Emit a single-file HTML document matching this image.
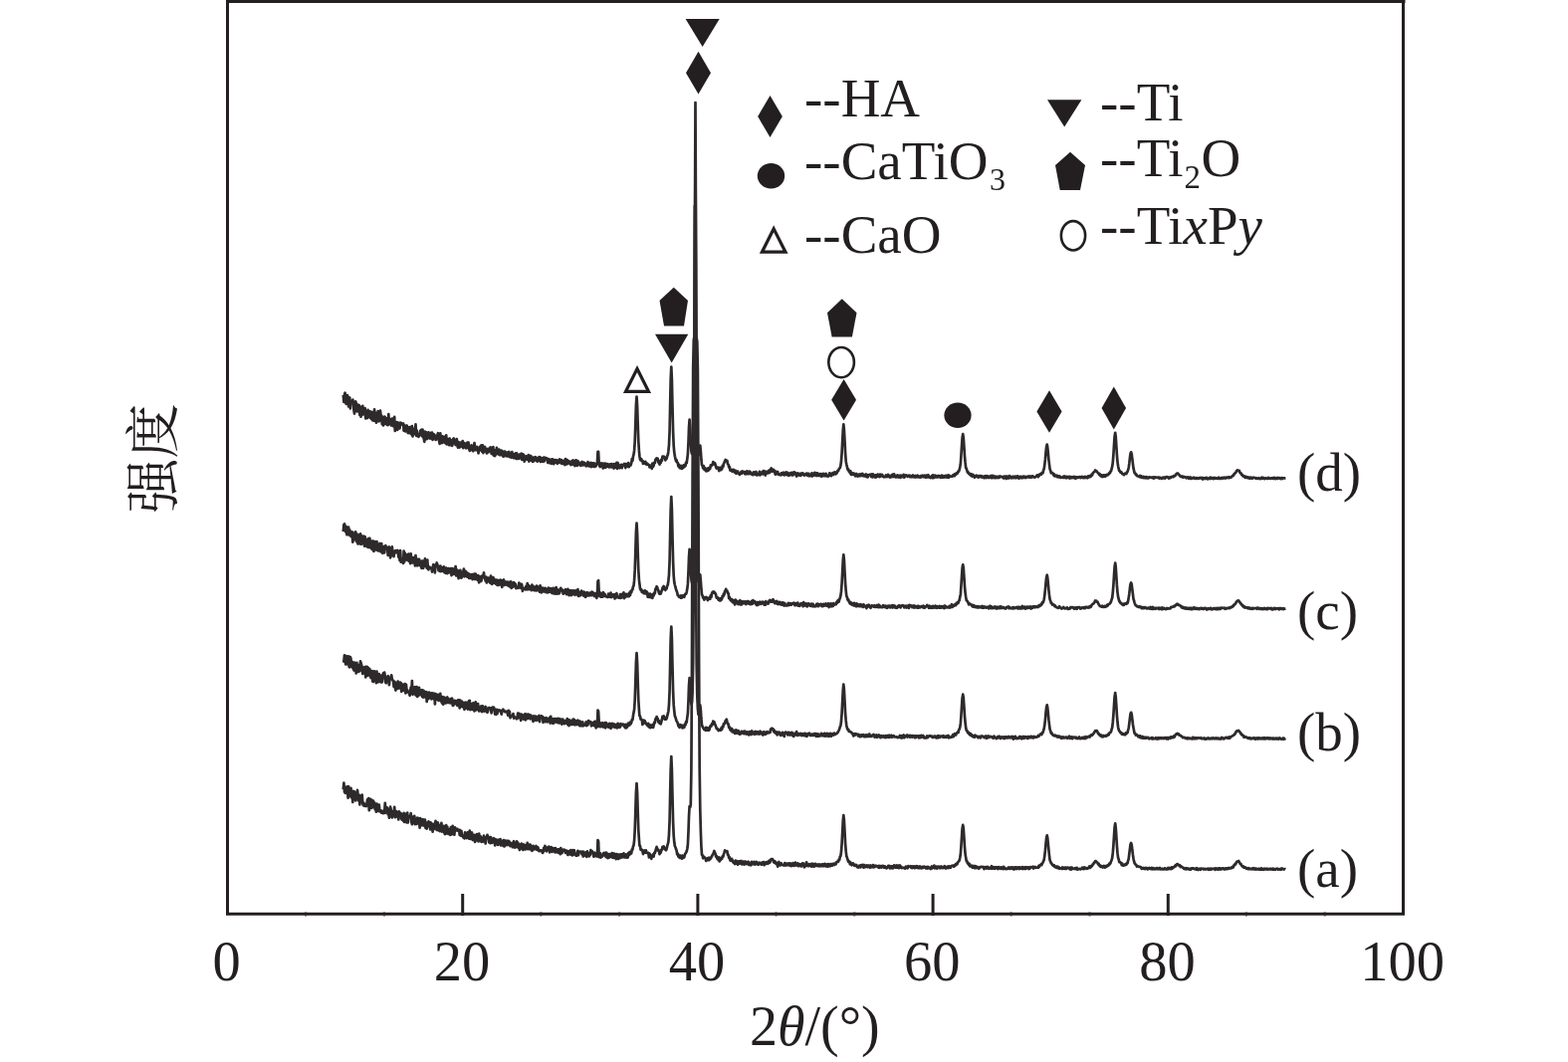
<!DOCTYPE html>
<html><head><meta charset="utf-8"><title>XRD</title><style>
html,body{margin:0;padding:0;background:#fff;overflow:hidden;}
svg{display:block;}
text{font-family:"Liberation Serif","Noto Serif CJK SC",serif;fill:#231f20;}
</style></head><body>
<svg width="1575" height="1067" viewBox="0 0 1575 1067">
<polyline points="344.8,793.0 345.4,786.5 346.0,795.4 346.6,796.6 347.2,796.9 347.8,791.2 348.4,790.3 349.0,792.5 349.6,801.6 350.1,790.0 350.7,800.1 351.3,793.0 351.9,799.8 352.5,791.9 353.1,801.3 353.7,795.8 354.3,806.0 354.9,794.8 355.5,802.0 356.0,795.4 356.6,796.6 357.2,804.3 357.8,802.6 358.4,803.1 359.0,793.9 359.6,798.8 360.2,804.4 360.8,798.8 361.4,808.4 362.0,799.6 362.5,804.9 363.1,805.4 363.7,798.5 364.3,807.3 364.9,809.1 365.5,806.8 366.1,809.8 366.7,808.6 367.3,808.4 367.9,810.1 368.4,808.6 369.0,803.3 369.6,808.7 370.2,802.0 370.8,814.2 371.4,803.1 372.0,802.9 372.6,803.0 373.2,811.9 373.8,804.2 374.4,811.0 374.9,804.6 375.5,806.7 376.1,806.3 376.7,813.1 377.3,811.9 377.9,815.7 378.5,807.5 379.1,813.8 379.7,808.6 380.3,815.0 380.8,808.7 381.4,815.3 382.0,815.5 382.6,814.3 383.2,816.6 383.8,815.4 384.4,814.9 385.0,817.1 385.6,816.9 386.2,816.4 386.8,806.9 387.3,816.6 387.9,811.1 388.5,811.2 389.1,812.4 389.7,818.1 390.3,812.8 390.9,821.7 391.5,817.8 392.1,810.7 392.7,813.5 393.2,819.3 393.8,821.4 394.4,818.7 395.0,814.9 395.6,819.4 396.2,810.8 396.8,821.2 397.4,820.4 398.0,815.2 398.6,815.9 399.2,820.6 399.7,816.0 400.3,823.3 400.9,815.3 401.5,816.9 402.1,817.4 402.7,817.1 403.3,822.9 403.9,823.6 404.5,818.5 405.1,824.7 405.6,816.8 406.2,825.9 406.8,817.7 407.4,824.0 408.0,818.2 408.6,826.5 409.2,816.7 409.8,826.5 410.4,819.8 411.0,820.2 411.6,820.0 412.1,821.1 412.7,817.1 413.3,826.1 413.9,828.1 414.5,826.8 415.1,821.5 415.7,820.1 416.3,819.9 416.9,828.2 417.5,823.1 418.1,827.8 418.6,827.9 419.2,821.7 419.8,822.3 420.4,822.2 421.0,823.3 421.6,831.7 422.2,822.2 422.8,829.0 423.4,823.4 424.0,829.1 424.5,823.3 425.1,829.4 425.7,823.7 426.3,829.4 426.9,823.7 427.5,831.9 428.1,826.3 428.7,832.6 429.3,826.5 429.9,830.3 430.5,825.4 431.0,826.8 431.6,826.1 432.2,833.4 432.8,826.7 433.4,831.9 434.0,827.7 434.6,835.7 435.2,828.4 435.8,833.1 436.4,827.5 436.9,832.4 437.5,824.8 438.1,828.2 438.7,833.9 439.3,828.2 439.9,826.5 440.5,834.5 441.1,833.8 441.7,835.0 442.3,828.9 442.9,835.0 443.4,826.8 444.0,835.7 444.6,830.0 445.2,835.0 445.8,829.8 446.4,836.9 447.0,838.1 447.6,830.8 448.2,829.1 448.8,837.5 449.3,830.6 449.9,837.2 450.5,837.9 451.1,837.6 451.7,832.9 452.3,838.8 452.9,831.0 453.5,838.3 454.1,837.9 454.7,829.9 455.3,837.2 455.8,838.3 456.4,838.7 457.0,831.4 457.6,833.9 458.2,832.8 458.8,834.4 459.4,832.8 460.0,834.5 460.6,834.2 461.2,833.9 461.7,838.9 462.3,834.1 462.9,839.6 463.5,835.0 464.1,839.7 464.7,839.5 465.3,841.4 465.9,840.8 466.5,842.4 467.1,836.4 467.7,841.6 468.2,840.9 468.8,842.1 469.4,836.8 470.0,836.2 470.6,836.4 471.2,842.6 471.8,834.7 472.4,842.8 473.0,837.3 473.6,838.2 474.1,836.5 474.7,843.9 475.3,843.7 475.9,842.5 476.5,838.8 477.1,846.0 477.7,843.5 478.3,844.4 478.9,838.2 479.5,843.8 480.1,840.1 480.6,845.5 481.2,837.5 481.8,844.6 482.4,840.3 483.0,840.5 483.6,845.9 484.2,844.5 484.8,845.5 485.4,845.2 486.0,839.7 486.5,845.4 487.1,841.2 487.7,847.5 488.3,841.5 488.9,842.0 489.5,838.8 490.1,841.9 490.7,841.3 491.3,846.4 491.9,841.0 492.5,847.2 493.0,841.2 493.6,842.3 494.2,846.8 494.8,846.2 495.4,843.5 496.0,842.2 496.6,842.9 497.2,849.5 497.8,843.4 498.4,843.5 498.9,843.9 499.5,843.9 500.1,848.8 500.7,843.8 501.3,847.5 501.9,848.3 502.5,843.0 503.1,849.3 503.7,844.7 504.3,849.2 504.9,848.0 505.4,849.6 506.0,844.2 506.6,850.5 507.2,845.5 507.8,844.5 508.4,844.7 509.0,849.1 509.6,844.8 510.2,848.9 510.8,844.9 511.3,845.5 511.9,845.8 512.5,850.1 513.1,850.0 513.7,849.9 514.3,847.0 514.9,851.2 515.5,846.8 516.1,845.2 516.7,850.2 517.3,851.6 517.8,847.8 518.4,850.7 519.0,845.3 519.6,851.0 520.2,846.6 520.8,851.8 521.4,848.2 522.0,854.0 522.6,851.4 523.2,852.5 523.8,847.6 524.3,851.8 524.9,848.3 525.5,854.0 526.1,848.5 526.7,848.7 527.3,849.2 527.9,853.3 528.5,849.8 529.1,852.5 529.7,846.8 530.2,853.1 530.8,849.5 531.4,853.1 532.0,848.6 532.6,848.5 533.2,850.2 533.8,854.2 534.4,854.8 535.0,853.7 535.6,849.8 536.2,853.5 536.7,853.3 537.3,851.1 537.9,851.3 538.5,849.9 539.1,853.7 539.7,853.9 540.3,851.3 540.9,854.3 541.5,855.1 542.1,854.6 542.6,854.1 543.2,854.9 543.8,854.4 544.4,855.1 545.0,856.9 545.6,856.1 546.2,851.9 546.8,854.7 547.4,849.8 548.0,852.2 548.6,852.6 549.1,855.3 549.7,852.5 550.3,851.2 550.9,853.0 551.5,850.5 552.1,856.3 552.7,852.4 553.3,852.1 553.9,851.1 554.5,855.9 555.0,855.6 555.6,852.5 556.2,852.1 556.8,852.4 557.4,856.3 558.0,852.2 558.6,856.1 559.2,853.9 559.8,856.5 560.4,853.3 561.0,856.7 561.5,853.4 562.1,857.0 562.7,858.2 563.3,852.1 563.9,856.7 564.5,857.1 565.1,854.1 565.7,853.6 566.3,854.6 566.9,853.6 567.4,854.1 568.0,857.0 568.6,854.8 569.2,854.6 569.8,854.9 570.4,859.0 571.0,857.9 571.6,855.0 572.2,855.2 572.8,858.5 573.4,854.1 573.9,858.8 574.5,854.7 575.1,859.4 575.7,854.1 576.3,858.6 576.9,854.4 577.5,858.5 578.1,858.4 578.7,859.7 579.3,858.0 579.8,859.5 580.4,854.8 581.0,859.2 581.6,855.5 582.2,856.2 582.8,855.6 583.4,855.5 584.0,856.1 584.6,858.4 585.2,855.6 585.8,860.5 586.3,855.9 586.9,859.8 587.5,856.8 588.1,859.5 588.7,856.3 589.3,860.8 589.9,855.4 590.5,859.5 591.1,857.0 591.7,860.4 592.2,859.3 592.8,859.2 593.4,854.2 594.0,857.2 594.6,855.0 595.2,856.7 595.8,857.3 596.4,860.7 597.0,856.6 597.6,859.8 598.2,857.3 598.7,859.7 599.3,860.5 599.9,860.4 600.5,844.1 601.1,845.4 601.7,861.2 602.3,860.6 602.9,857.3 603.5,861.6 604.1,859.9 604.6,860.7 605.2,860.4 605.8,858.0 606.4,857.0 607.0,856.9 607.6,857.2 608.2,860.4 608.8,856.5 609.4,861.3 610.0,857.5 610.6,862.1 611.1,858.3 611.7,861.7 612.3,858.0 612.9,860.6 613.5,858.7 614.1,861.0 614.7,857.2 615.3,861.6 615.9,857.5 616.5,861.9 617.0,857.5 617.6,861.1 618.2,858.3 618.8,863.2 619.4,858.2 620.0,861.0 620.6,858.6 621.2,863.0 621.8,859.0 622.4,858.4 623.0,859.1 623.5,861.9 624.1,858.4 624.7,861.2 625.3,858.6 625.9,861.2 626.5,857.4 627.1,861.5 627.7,861.4 628.3,861.0 628.9,858.3 629.4,861.6 630.0,858.5 630.6,861.6 631.2,857.1 631.8,859.3 632.4,856.0 633.0,858.3 633.6,855.5 634.2,857.4 634.8,853.4 635.4,853.6 635.9,850.5 636.5,849.4 637.1,844.5 637.7,834.0 638.3,815.9 638.9,796.3 639.5,787.0 640.1,796.4 640.7,816.0 641.3,834.3 641.9,843.2 642.4,849.7 643.0,849.9 643.6,853.9 644.2,853.5 644.8,853.8 645.4,854.5 646.0,858.1 646.6,854.9 647.2,855.2 647.8,854.5 648.3,856.8 648.9,854.4 649.5,856.2 650.1,857.0 650.7,857.2 651.3,857.0 651.9,861.3 652.5,857.5 653.1,861.2 653.7,859.6 654.3,862.8 654.8,859.3 655.4,859.3 656.0,858.3 656.6,860.6 657.2,856.9 657.8,857.2 658.4,854.8 659.0,852.8 659.6,850.9 660.2,852.4 660.7,854.5 661.3,853.8 661.9,854.7 662.5,858.2 663.1,855.5 663.7,856.7 664.3,853.9 664.9,853.7 665.5,850.8 666.1,851.2 666.7,850.3 667.2,852.7 667.8,852.0 668.4,853.7 669.0,854.2 669.6,852.9 670.2,850.2 670.8,848.0 671.4,845.6 672.0,838.5 672.6,824.5 673.1,800.9 673.7,773.3 674.3,760.0 674.9,773.6 675.5,801.3 676.1,825.6 676.7,839.6 677.3,846.3 677.9,850.2 678.5,851.3 679.1,853.3 679.6,854.5 680.2,858.5 680.8,857.6 681.4,860.6 682.0,861.0 682.6,861.7 683.2,859.5 683.8,861.9 684.4,861.8 685.0,862.7 685.5,859.5 686.1,862.0 686.7,861.8 687.3,861.3 687.9,858.8 688.5,857.3 689.1,856.9 689.7,855.3 690.3,853.0 690.9,848.5 691.5,835.5 692.0,820.3 692.6,810.0 693.2,811.1 693.8,808.5 694.4,774.1 695.0,663.6 695.6,485.6 696.2,369.8 696.8,341.2 697.4,338.6 697.9,339.5 698.5,339.6 699.1,340.0 699.7,339.7 700.3,343.3 700.9,372.2 701.5,487.4 702.1,664.4 702.7,772.4 703.3,813.7 703.9,836.0 704.4,850.0 705.0,858.8 705.6,859.2 706.2,862.3 706.8,860.6 707.4,861.3 708.0,861.5 708.6,862.5 709.2,865.0 709.8,864.5 710.3,862.7 710.9,863.0 711.5,861.8 712.1,864.3 712.7,861.8 713.3,863.2 713.9,862.3 714.5,861.3 715.1,860.1 715.7,858.9 716.3,857.9 716.8,857.0 717.4,855.0 718.0,856.7 718.6,857.9 719.2,860.8 719.8,860.0 720.4,862.8 721.0,861.9 721.6,864.2 722.2,861.4 722.7,865.4 723.3,862.5 723.9,864.0 724.5,861.8 725.1,862.9 725.7,860.3 726.3,860.9 726.9,858.2 727.5,856.6 728.1,854.4 728.7,855.5 729.2,855.4 729.8,855.4 730.4,855.1 731.0,858.8 731.6,858.8 732.2,861.9 732.8,861.2 733.4,864.3 734.0,864.9 734.6,863.7 735.1,862.9 735.7,864.5 736.3,866.1 736.9,866.8 737.5,867.0 738.1,868.0 738.7,864.6 739.3,867.6 739.9,865.1 740.5,867.9 741.1,868.7 741.6,865.6 742.2,865.4 742.8,867.6 743.4,865.2 744.0,865.4 744.6,865.0 745.2,868.5 745.8,866.1 746.4,865.7 747.0,865.7 747.5,868.7 748.1,865.5 748.7,865.5 749.3,866.1 749.9,868.2 750.5,866.4 751.1,867.8 751.7,865.7 752.3,868.9 752.9,868.5 753.5,868.9 754.0,869.3 754.6,866.1 755.2,865.8 755.8,868.3 756.4,866.6 757.0,868.1 757.6,865.9 758.2,868.7 758.8,866.7 759.4,868.2 760.0,866.0 760.5,868.3 761.1,868.2 761.7,868.8 762.3,866.9 762.9,866.7 763.5,866.8 764.1,868.2 764.7,868.6 765.3,868.4 765.9,866.4 766.4,868.5 767.0,866.0 767.6,869.2 768.2,866.5 768.8,868.2 769.4,866.6 770.0,866.2 770.6,866.1 771.2,867.8 771.8,867.1 772.4,864.8 772.9,867.0 773.5,866.2 774.1,863.7 774.7,863.1 775.3,863.1 775.9,863.0 776.5,864.0 777.1,866.2 777.7,866.5 778.3,865.3 778.8,866.0 779.4,867.7 780.0,866.7 780.6,868.4 781.2,870.7 781.8,868.4 782.4,866.0 783.0,868.7 783.6,869.4 784.2,868.8 784.8,867.3 785.3,868.9 785.9,868.9 786.5,869.2 787.1,869.2 787.7,869.5 788.3,867.0 788.9,868.9 789.5,869.6 790.1,867.7 790.7,867.8 791.2,867.8 791.8,869.3 792.4,867.4 793.0,867.8 793.6,869.5 794.2,867.5 794.8,870.2 795.4,869.3 796.0,869.4 796.6,867.1 797.2,869.9 797.7,867.8 798.3,869.5 798.9,866.6 799.5,869.5 800.1,867.8 800.7,869.4 801.3,867.3 801.9,870.2 802.5,869.6 803.1,869.6 803.6,868.2 804.2,870.2 804.8,870.4 805.4,869.6 806.0,867.4 806.6,867.8 807.2,867.7 807.8,871.3 808.4,870.1 809.0,869.9 809.6,870.1 810.1,866.3 810.7,868.1 811.3,869.7 811.9,870.2 812.5,870.0 813.1,868.2 813.7,868.4 814.3,868.2 814.9,870.6 815.5,867.9 816.0,870.0 816.6,867.8 817.2,870.7 817.8,870.5 818.4,870.2 819.0,867.9 819.6,869.9 820.2,868.6 820.8,869.8 821.4,868.6 822.0,870.1 822.5,868.5 823.1,870.3 823.7,868.6 824.3,870.0 824.9,868.7 825.5,870.1 826.1,868.3 826.7,870.0 827.3,868.6 827.9,870.0 828.4,867.9 829.0,868.2 829.6,870.4 830.2,870.2 830.8,868.5 831.4,870.7 832.0,868.1 832.6,868.4 833.2,870.1 833.8,870.3 834.4,868.1 834.9,869.6 835.5,868.2 836.1,869.5 836.7,868.0 837.3,867.6 837.9,868.8 838.5,868.9 839.1,867.3 839.7,868.2 840.3,866.0 840.8,866.1 841.4,865.4 842.0,865.8 842.6,863.6 843.2,863.9 843.8,860.5 844.4,860.0 845.0,855.6 845.6,847.5 846.2,836.0 846.8,824.1 847.3,819.1 847.9,824.2 848.5,835.8 849.1,847.6 849.7,855.2 850.3,860.1 850.9,861.5 851.5,863.8 852.1,865.6 852.7,866.0 853.2,865.5 853.8,868.3 854.4,866.6 855.0,868.4 855.6,869.2 856.2,867.5 856.8,867.4 857.4,867.9 858.0,869.6 858.6,869.9 859.2,869.9 859.7,868.9 860.3,869.0 860.9,870.6 861.5,871.4 862.1,870.7 862.7,871.5 863.3,869.5 863.9,869.5 864.5,871.4 865.1,869.2 865.6,869.2 866.2,869.7 866.8,868.8 867.4,871.7 868.0,869.1 868.6,871.3 869.2,871.0 869.8,871.0 870.4,869.4 871.0,869.5 871.6,871.2 872.1,869.5 872.7,869.6 873.3,869.9 873.9,871.7 874.5,869.5 875.1,871.3 875.7,871.0 876.3,871.2 876.9,869.1 877.5,871.4 878.1,869.8 878.6,871.1 879.2,869.9 879.8,869.7 880.4,870.2 881.0,870.2 881.6,871.1 882.2,871.5 882.8,870.0 883.4,871.8 884.0,870.0 884.5,870.2 885.1,871.2 885.7,871.5 886.3,869.8 886.9,869.8 887.5,870.2 888.1,871.7 888.7,870.3 889.3,871.9 889.9,871.3 890.5,872.4 891.0,872.0 891.6,871.4 892.2,869.8 892.8,871.4 893.4,870.0 894.0,872.5 894.6,870.3 895.2,872.2 895.8,870.3 896.4,870.3 896.9,872.4 897.5,872.0 898.1,869.4 898.7,870.6 899.3,870.4 899.9,871.7 900.5,869.5 901.1,871.7 901.7,869.8 902.3,869.7 902.9,872.1 903.4,871.8 904.0,869.5 904.6,871.7 905.2,870.6 905.8,872.1 906.4,871.8 907.0,871.9 907.6,871.9 908.2,871.8 908.8,872.5 909.3,872.6 909.9,870.6 910.5,871.9 911.1,871.8 911.7,872.4 912.3,870.1 912.9,870.5 913.5,870.5 914.1,870.8 914.7,870.3 915.3,871.9 915.8,870.6 916.4,872.0 917.0,870.3 917.6,870.7 918.2,870.4 918.8,872.2 919.4,870.6 920.0,871.7 920.6,870.2 921.2,871.8 921.7,870.5 922.3,872.1 922.9,870.9 923.5,872.1 924.1,870.5 924.7,872.1 925.3,872.0 925.9,872.3 926.5,870.8 927.1,871.9 927.7,870.9 928.2,870.6 928.8,870.8 929.4,871.9 930.0,872.5 930.6,872.5 931.2,870.9 931.8,872.6 932.4,871.0 933.0,872.0 933.6,872.2 934.1,871.9 934.7,873.0 935.3,871.9 935.9,870.5 936.5,872.4 937.1,870.8 937.7,870.9 938.3,869.6 938.9,872.3 939.5,872.2 940.1,870.7 940.6,870.6 941.2,872.6 941.8,871.8 942.4,870.6 943.0,870.7 943.6,870.9 944.2,872.3 944.8,872.0 945.4,870.4 946.0,872.0 946.5,871.9 947.1,872.2 947.7,870.8 948.3,871.9 948.9,870.2 949.5,872.2 950.1,872.5 950.7,872.4 951.3,870.8 951.9,871.9 952.5,870.5 953.0,872.0 953.6,870.5 954.2,871.4 954.8,871.6 955.4,870.2 956.0,869.8 956.6,869.8 957.2,869.6 957.8,870.7 958.4,870.6 958.9,869.2 959.5,869.8 960.1,868.3 960.7,867.7 961.3,868.4 961.9,867.0 962.5,865.9 963.1,865.3 963.7,864.5 964.3,861.7 964.9,857.6 965.4,850.6 966.0,841.4 966.6,832.4 967.2,828.9 967.8,832.3 968.4,841.5 969.0,851.0 969.6,858.1 970.2,861.7 970.8,865.3 971.3,865.2 971.9,867.3 972.5,866.9 973.1,868.8 973.7,867.8 974.3,870.5 974.9,870.0 975.5,870.5 976.1,869.6 976.7,871.5 977.3,870.1 977.8,871.6 978.4,870.1 979.0,872.0 979.6,870.2 980.2,872.2 980.8,870.7 981.4,871.8 982.0,871.0 982.6,872.1 983.2,872.6 983.7,872.2 984.3,871.0 984.9,871.1 985.5,870.9 986.1,871.1 986.7,871.0 987.3,870.9 987.9,871.2 988.5,873.1 989.1,871.2 989.7,872.2 990.2,871.1 990.8,872.6 991.4,871.2 992.0,870.8 992.6,871.3 993.2,872.8 993.8,872.6 994.4,872.5 995.0,871.5 995.6,872.6 996.1,870.2 996.7,872.7 997.3,871.3 997.9,871.2 998.5,872.6 999.1,872.8 999.7,871.4 1000.3,871.2 1000.9,871.4 1001.5,872.5 1002.1,871.3 1002.6,873.0 1003.2,871.1 1003.8,871.5 1004.4,871.7 1005.0,872.8 1005.6,871.3 1006.2,872.6 1006.8,872.7 1007.4,873.0 1008.0,870.8 1008.6,872.9 1009.1,871.7 1009.7,872.9 1010.3,872.6 1010.9,873.2 1011.5,872.8 1012.1,872.8 1012.7,871.7 1013.3,872.7 1013.9,871.4 1014.5,872.9 1015.0,872.6 1015.6,871.6 1016.2,871.4 1016.8,872.7 1017.4,871.4 1018.0,873.3 1018.6,871.6 1019.2,873.3 1019.8,871.4 1020.4,871.6 1021.0,871.3 1021.5,873.0 1022.1,871.7 1022.7,871.5 1023.3,871.3 1023.9,873.0 1024.5,871.5 1025.1,872.5 1025.7,871.7 1026.3,872.7 1026.9,871.1 1027.4,873.1 1028.0,871.6 1028.6,872.6 1029.2,871.4 1029.8,873.1 1030.4,871.2 1031.0,872.6 1031.6,871.6 1032.2,871.3 1032.8,871.5 1033.4,873.0 1033.9,871.5 1034.5,872.5 1035.1,871.1 1035.7,871.4 1036.3,871.5 1036.9,871.3 1037.5,870.8 1038.1,872.5 1038.7,871.1 1039.3,871.2 1039.8,871.0 1040.4,871.9 1041.0,871.6 1041.6,871.5 1042.2,871.6 1042.8,871.8 1043.4,870.0 1044.0,870.8 1044.6,869.3 1045.2,869.1 1045.8,868.3 1046.3,869.1 1046.9,867.5 1047.5,866.7 1048.1,865.3 1048.7,863.9 1049.3,859.6 1049.9,854.4 1050.5,847.5 1051.1,841.9 1051.7,839.3 1052.2,841.6 1052.8,847.7 1053.4,854.0 1054.0,859.6 1054.6,864.3 1055.2,865.5 1055.8,867.4 1056.4,867.6 1057.0,869.0 1057.6,869.4 1058.2,869.9 1058.7,869.2 1059.3,870.8 1059.9,871.2 1060.5,871.4 1061.1,870.5 1061.7,871.9 1062.3,870.7 1062.9,872.2 1063.5,871.1 1064.1,872.7 1064.6,872.6 1065.2,872.3 1065.8,872.3 1066.4,872.9 1067.0,871.5 1067.6,872.8 1068.2,871.6 1068.8,872.7 1069.4,871.6 1070.0,872.9 1070.6,871.6 1071.1,872.9 1071.7,872.0 1072.3,871.6 1072.9,871.8 1073.5,871.8 1074.1,873.0 1074.7,873.3 1075.3,871.6 1075.9,873.7 1076.5,871.6 1077.0,871.7 1077.6,872.8 1078.2,872.9 1078.8,872.8 1079.4,873.0 1080.0,872.1 1080.6,873.1 1081.2,872.1 1081.8,871.9 1082.4,873.7 1083.0,873.0 1083.5,873.0 1084.1,873.1 1084.7,872.9 1085.3,873.3 1085.9,872.9 1086.5,872.9 1087.1,871.7 1087.7,872.8 1088.3,871.7 1088.9,873.1 1089.4,871.5 1090.0,871.9 1090.6,871.8 1091.2,872.8 1091.8,872.5 1092.4,872.6 1093.0,872.1 1093.6,871.9 1094.2,870.5 1094.8,871.9 1095.4,870.4 1095.9,871.2 1096.5,869.7 1097.1,869.9 1097.7,868.3 1098.3,868.2 1098.9,866.6 1099.5,866.7 1100.1,865.3 1100.7,865.1 1101.3,865.9 1101.8,866.5 1102.4,866.6 1103.0,868.2 1103.6,867.7 1104.2,869.5 1104.8,869.4 1105.4,870.8 1106.0,869.8 1106.6,870.9 1107.2,870.4 1107.8,871.5 1108.3,870.4 1108.9,869.9 1109.5,870.2 1110.1,871.6 1110.7,870.1 1111.3,870.9 1111.9,869.6 1112.5,870.1 1113.1,869.1 1113.7,869.3 1114.2,867.6 1114.8,868.0 1115.4,867.3 1116.0,865.4 1116.6,863.9 1117.2,861.9 1117.8,856.9 1118.4,849.6 1119.0,839.8 1119.6,831.0 1120.2,827.4 1120.7,831.1 1121.3,839.6 1121.9,849.5 1122.5,857.2 1123.1,861.7 1123.7,863.4 1124.3,866.2 1124.9,866.0 1125.5,866.7 1126.1,867.0 1126.7,869.1 1127.2,867.6 1127.8,869.4 1128.4,869.6 1129.0,869.4 1129.6,868.6 1130.2,869.1 1130.8,868.1 1131.4,868.6 1132.0,867.2 1132.6,867.1 1133.1,864.8 1133.7,862.8 1134.3,858.0 1134.9,853.1 1135.5,848.5 1136.1,847.0 1136.7,848.7 1137.3,853.4 1137.9,858.4 1138.5,862.5 1139.1,865.4 1139.6,867.2 1140.2,868.1 1140.8,868.6 1141.4,869.2 1142.0,870.6 1142.6,870.2 1143.2,870.3 1143.8,870.7 1144.4,870.9 1145.0,870.9 1145.5,871.2 1146.1,871.3 1146.7,872.9 1147.3,872.7 1147.9,872.5 1148.5,871.9 1149.1,872.7 1149.7,872.1 1150.3,873.1 1150.9,871.9 1151.5,872.0 1152.0,872.1 1152.6,873.3 1153.2,872.3 1153.8,873.0 1154.4,872.0 1155.0,872.3 1155.6,872.4 1156.2,873.1 1156.8,871.9 1157.4,873.3 1157.9,872.1 1158.5,873.2 1159.1,872.3 1159.7,873.3 1160.3,873.1 1160.9,873.1 1161.5,872.1 1162.1,873.1 1162.7,872.1 1163.3,873.2 1163.9,873.2 1164.4,873.1 1165.0,872.0 1165.6,873.3 1166.2,873.3 1166.8,873.2 1167.4,872.6 1168.0,873.4 1168.6,873.4 1169.2,873.5 1169.8,872.3 1170.3,872.4 1170.9,873.4 1171.5,873.2 1172.1,873.4 1172.7,873.3 1173.3,871.9 1173.9,873.0 1174.5,871.9 1175.1,872.9 1175.7,872.8 1176.3,873.1 1176.8,871.3 1177.4,872.7 1178.0,871.4 1178.6,871.7 1179.2,870.8 1179.8,870.9 1180.4,869.7 1181.0,870.3 1181.6,868.8 1182.2,868.3 1182.7,868.1 1183.3,869.0 1183.9,868.8 1184.5,869.8 1185.1,869.5 1185.7,871.0 1186.3,870.3 1186.9,871.0 1187.5,871.1 1188.1,871.7 1188.7,871.8 1189.2,872.8 1189.8,873.1 1190.4,873.1 1191.0,872.2 1191.6,873.3 1192.2,872.4 1192.8,873.1 1193.4,872.5 1194.0,873.3 1194.6,873.2 1195.1,873.5 1195.7,872.7 1196.3,873.5 1196.9,872.4 1197.5,872.4 1198.1,872.6 1198.7,872.4 1199.3,872.8 1199.9,873.3 1200.5,872.7 1201.1,873.4 1201.6,873.7 1202.2,872.2 1202.8,873.6 1203.4,874.0 1204.0,872.9 1204.6,873.3 1205.2,872.7 1205.8,873.8 1206.4,872.6 1207.0,872.9 1207.5,872.8 1208.1,872.7 1208.7,873.4 1209.3,873.5 1209.9,872.8 1210.5,872.9 1211.1,873.5 1211.7,873.5 1212.3,872.9 1212.9,872.9 1213.5,872.6 1214.0,873.8 1214.6,872.9 1215.2,873.7 1215.8,872.6 1216.4,873.5 1217.0,872.8 1217.6,873.3 1218.2,872.8 1218.8,872.8 1219.4,872.7 1219.9,872.9 1220.5,873.9 1221.1,872.3 1221.7,873.3 1222.3,873.4 1222.9,872.6 1223.5,873.7 1224.1,872.3 1224.7,873.4 1225.3,872.3 1225.9,873.4 1226.4,872.8 1227.0,873.4 1227.6,872.6 1228.2,872.4 1228.8,872.6 1229.4,873.2 1230.0,872.6 1230.6,873.4 1231.2,872.4 1231.8,872.3 1232.3,873.1 1232.9,872.9 1233.5,872.2 1234.1,872.8 1234.7,871.9 1235.3,872.5 1235.9,872.4 1236.5,872.3 1237.1,871.4 1237.7,871.9 1238.3,870.6 1238.8,871.3 1239.4,869.4 1240.0,869.4 1240.6,868.0 1241.2,868.2 1241.8,866.8 1242.4,865.7 1243.0,865.9 1243.6,865.6 1244.2,864.9 1244.8,866.1 1245.3,866.9 1245.9,868.2 1246.5,868.1 1247.1,869.4 1247.7,870.1 1248.3,870.6 1248.9,870.4 1249.5,871.7 1250.1,871.2 1250.7,871.5 1251.2,871.6 1251.8,872.7 1252.4,872.2 1253.0,873.0 1253.6,873.1 1254.2,872.1 1254.8,873.1 1255.4,872.6 1256.0,873.2 1256.6,873.1 1257.2,872.7 1257.7,873.3 1258.3,872.6 1258.9,872.2 1259.5,873.3 1260.1,873.4 1260.7,872.5 1261.3,873.5 1261.9,872.7 1262.5,873.5 1263.1,873.4 1263.6,873.3 1264.2,872.8 1264.8,873.6 1265.4,873.7 1266.0,873.5 1266.6,872.3 1267.2,873.6 1267.8,872.9 1268.4,873.6 1269.0,872.9 1269.6,873.7 1270.1,872.7 1270.7,873.4 1271.3,872.9 1271.9,873.4 1272.5,872.7 1273.1,873.6 1273.7,872.9 1274.3,873.0 1274.9,873.5 1275.5,873.5 1276.0,872.8 1276.6,873.4 1277.2,872.9 1277.8,873.5 1278.4,872.7 1279.0,873.7 1279.6,872.8 1280.2,873.5 1280.8,873.8 1281.4,873.4 1282.0,872.8 1282.5,872.7 1283.1,872.8 1283.7,873.6 1284.3,873.0 1284.9,873.0 1285.5,873.7 1286.1,873.5 1286.7,872.8 1287.3,873.5 1287.9,872.5 1288.4,873.0 1289.0,873.0 1289.6,873.5 1290.2,873.1 1290.8,873.1 1291.4,873.3" fill="none" stroke="#2e2a2b" stroke-width="2.7" stroke-linejoin="round"/>
<polyline points="344.8,663.6 345.4,664.6 346.0,658.3 346.6,659.7 347.2,667.5 347.8,659.2 348.4,667.3 349.0,661.6 349.6,666.9 350.1,659.3 350.7,670.1 351.3,670.3 351.9,660.0 352.5,662.1 353.1,669.7 353.7,664.9 354.3,671.1 354.9,671.3 355.5,673.5 356.0,665.7 356.6,671.9 357.2,672.3 357.8,676.5 358.4,665.9 359.0,674.9 359.6,667.8 360.2,675.0 360.8,669.3 361.4,674.2 362.0,664.4 362.5,665.7 363.1,668.2 363.7,670.0 364.3,677.0 364.9,675.9 365.5,670.5 366.1,676.1 366.7,670.0 367.3,680.4 367.9,669.9 368.4,678.1 369.0,670.0 369.6,678.6 370.2,671.2 370.8,673.1 371.4,672.1 372.0,678.8 372.6,681.1 373.2,680.8 373.8,674.1 374.4,684.7 374.9,684.9 375.5,680.9 376.1,674.4 376.7,683.8 377.3,676.7 377.9,686.2 378.5,674.6 379.1,683.9 379.7,685.3 380.3,685.0 380.8,677.1 381.4,683.6 382.0,678.9 382.6,685.3 383.2,678.6 383.8,685.4 384.4,680.1 385.0,676.4 385.6,680.0 386.2,675.6 386.8,680.5 387.3,685.7 387.9,686.2 388.5,681.9 389.1,680.4 389.7,679.2 390.3,681.2 390.9,688.1 391.5,682.5 392.1,680.7 392.7,680.6 393.2,678.3 393.8,682.2 394.4,683.5 395.0,683.7 395.6,689.9 396.2,684.8 396.8,689.8 397.4,693.6 398.0,689.7 398.6,685.5 399.2,692.0 399.7,684.7 400.3,691.4 400.9,691.4 401.5,690.5 402.1,685.7 402.7,686.1 403.3,694.8 403.9,692.1 404.5,687.5 405.1,693.6 405.6,688.3 406.2,693.6 406.8,687.2 407.4,696.3 408.0,687.9 408.6,695.4 409.2,693.2 409.8,695.3 410.4,695.1 411.0,696.2 411.6,698.8 412.1,694.6 412.7,690.5 413.3,694.7 413.9,684.2 414.5,697.8 415.1,691.8 415.7,696.6 416.3,691.0 416.9,690.1 417.5,698.4 418.1,696.9 418.6,690.1 419.2,699.9 419.8,692.5 420.4,698.8 421.0,690.8 421.6,697.5 422.2,693.4 422.8,697.8 423.4,693.4 424.0,700.0 424.5,693.4 425.1,700.6 425.7,694.1 426.3,700.2 426.9,695.3 427.5,700.7 428.1,695.2 428.7,704.9 429.3,695.9 429.9,700.8 430.5,702.0 431.0,695.5 431.6,697.0 432.2,700.8 432.8,696.6 433.4,702.3 434.0,696.3 434.6,701.6 435.2,702.0 435.8,696.7 436.4,697.0 436.9,707.5 437.5,697.1 438.1,697.5 438.7,698.7 439.3,702.7 439.9,697.8 440.5,703.8 441.1,703.1 441.7,703.0 442.3,696.9 442.9,704.4 443.4,704.0 444.0,706.5 444.6,700.2 445.2,707.7 445.8,704.8 446.4,700.6 447.0,701.3 447.6,706.5 448.2,705.6 448.8,701.5 449.3,700.5 449.9,706.0 450.5,702.2 451.1,706.0 451.7,706.1 452.3,706.4 452.9,702.2 453.5,706.1 454.1,701.7 454.7,708.6 455.3,708.8 455.8,707.1 456.4,703.9 457.0,707.2 457.6,704.2 458.2,707.3 458.8,704.5 459.4,708.9 460.0,703.3 460.6,709.0 461.2,703.4 461.7,711.4 462.3,703.7 462.9,710.1 463.5,705.5 464.1,704.8 464.7,709.5 465.3,710.7 465.9,706.2 466.5,713.0 467.1,705.9 467.7,705.7 468.2,706.0 468.8,711.3 469.4,705.8 470.0,712.7 470.6,706.5 471.2,704.2 471.8,703.8 472.4,713.1 473.0,710.9 473.6,711.9 474.1,707.1 474.7,712.9 475.3,706.4 475.9,708.6 476.5,714.4 477.1,712.0 477.7,705.4 478.3,713.3 478.9,708.8 479.5,712.6 480.1,707.2 480.6,712.9 481.2,714.4 481.8,712.7 482.4,714.0 483.0,709.6 483.6,709.6 484.2,715.2 484.8,709.3 485.4,713.6 486.0,714.5 486.5,714.6 487.1,710.9 487.7,710.0 488.3,711.2 488.9,715.2 489.5,715.8 490.1,714.6 490.7,711.4 491.3,711.0 491.9,711.7 492.5,711.6 493.0,711.4 493.6,716.3 494.2,712.1 494.8,710.6 495.4,712.5 496.0,710.7 496.6,713.1 497.2,717.5 497.8,713.1 498.4,717.8 498.9,712.9 499.5,717.0 500.1,713.7 500.7,713.4 501.3,713.9 501.9,714.3 502.5,713.7 503.1,714.0 503.7,717.6 504.3,714.8 504.9,714.4 505.4,712.7 506.0,714.1 506.6,714.2 507.2,715.2 507.8,715.2 508.4,715.3 509.0,714.6 509.6,714.9 510.2,718.8 510.8,713.8 511.3,718.6 511.9,714.8 512.5,721.2 513.1,719.5 513.7,719.5 514.3,719.2 514.9,719.5 515.5,717.0 516.1,721.6 516.7,719.9 517.3,720.8 517.8,721.3 518.4,721.2 519.0,722.3 519.6,721.0 520.2,716.5 520.8,721.4 521.4,716.9 522.0,717.6 522.6,717.6 523.2,723.8 523.8,717.7 524.3,721.1 524.9,718.4 525.5,722.2 526.1,722.6 526.7,722.0 527.3,717.4 527.9,723.4 528.5,717.6 529.1,722.2 529.7,718.2 530.2,721.9 530.8,717.7 531.4,718.8 532.0,718.5 532.6,722.4 533.2,718.6 533.8,719.4 534.4,720.1 535.0,722.8 535.6,724.9 536.2,719.4 536.7,720.1 537.3,723.5 537.9,719.5 538.5,723.9 539.1,720.1 539.7,723.4 540.3,720.9 540.9,723.4 541.5,718.9 542.1,725.1 542.6,720.5 543.2,720.7 543.8,719.3 544.4,721.2 545.0,719.9 545.6,725.9 546.2,721.2 546.8,721.6 547.4,724.2 548.0,725.2 548.6,721.0 549.1,721.8 549.7,725.4 550.3,724.9 550.9,722.2 551.5,722.0 552.1,720.9 552.7,726.6 553.3,719.9 553.9,725.6 554.5,722.2 555.0,726.6 555.6,722.3 556.2,726.6 556.8,722.1 557.4,725.5 558.0,722.0 558.6,722.7 559.2,725.5 559.8,725.8 560.4,721.9 561.0,726.2 561.5,722.1 562.1,726.5 562.7,722.4 563.3,723.5 563.9,723.3 564.5,727.7 565.1,722.5 565.7,726.2 566.3,723.7 566.9,727.2 567.4,724.2 568.0,726.7 568.6,724.1 569.2,724.4 569.8,722.1 570.4,728.1 571.0,723.4 571.6,729.2 572.2,723.7 572.8,727.7 573.4,724.2 573.9,727.9 574.5,724.6 575.1,728.0 575.7,722.5 576.3,724.5 576.9,722.9 577.5,728.3 578.1,724.5 578.7,724.3 579.3,728.0 579.8,728.1 580.4,723.7 581.0,724.3 581.6,724.3 582.2,729.2 582.8,724.9 583.4,728.7 584.0,729.3 584.6,727.9 585.2,725.3 585.8,729.3 586.3,728.5 586.9,727.9 587.5,728.2 588.1,728.8 588.7,725.3 589.3,729.1 589.9,725.6 590.5,728.4 591.1,724.2 591.7,724.5 592.2,726.1 592.8,726.4 593.4,725.3 594.0,729.3 594.6,726.3 595.2,728.6 595.8,726.0 596.4,728.9 597.0,725.2 597.6,729.3 598.2,724.8 598.7,731.3 599.3,725.4 599.9,730.2 600.5,713.5 601.1,714.9 601.7,725.9 602.3,730.1 602.9,726.3 603.5,730.1 604.1,727.0 604.6,726.9 605.2,726.2 605.8,730.5 606.4,727.1 607.0,730.5 607.6,726.2 608.2,731.3 608.8,726.2 609.4,727.4 610.0,727.3 610.6,729.7 611.1,730.7 611.7,730.1 612.3,726.8 612.9,727.7 613.5,731.9 614.1,729.9 614.7,726.9 615.3,730.2 615.9,727.4 616.5,730.4 617.0,727.5 617.6,730.1 618.2,730.9 618.8,728.1 619.4,728.3 620.0,731.4 620.6,726.8 621.2,730.5 621.8,727.7 622.4,730.9 623.0,730.3 623.5,727.1 624.1,728.1 624.7,728.4 625.3,727.7 625.9,727.6 626.5,728.1 627.1,730.0 627.7,728.2 628.3,731.4 628.9,727.9 629.4,731.1 630.0,730.5 630.6,729.1 631.2,726.5 631.8,728.5 632.4,728.6 633.0,725.7 633.6,727.3 634.2,725.9 634.8,723.1 635.4,723.2 635.9,719.5 636.5,716.0 637.1,712.8 637.7,703.5 638.3,685.4 638.9,665.7 639.5,656.2 640.1,665.7 640.7,685.2 641.3,703.3 641.9,712.9 642.4,719.2 643.0,719.6 643.6,722.7 644.2,722.6 644.8,723.4 645.4,728.0 646.0,726.3 646.6,723.5 647.2,726.5 647.8,724.3 648.3,726.1 648.9,726.4 649.5,727.9 650.1,728.5 650.7,729.2 651.3,726.9 651.9,730.5 652.5,728.4 653.1,731.1 653.7,728.6 654.3,730.6 654.8,728.8 655.4,728.3 656.0,731.0 656.6,729.0 657.2,725.8 657.8,726.2 658.4,722.2 659.0,722.0 659.6,720.1 660.2,721.9 660.7,721.9 661.3,725.5 661.9,724.2 662.5,726.7 663.1,726.7 663.7,727.4 664.3,725.2 664.9,722.9 665.5,719.8 666.1,720.2 666.7,719.3 667.2,721.4 667.8,722.7 668.4,721.2 669.0,722.7 669.6,721.8 670.2,719.4 670.8,717.2 671.4,714.5 672.0,708.1 672.6,694.0 673.1,670.3 673.7,641.9 674.3,629.6 674.9,642.1 675.5,670.5 676.1,694.4 676.7,708.4 677.3,714.5 677.9,719.5 678.5,720.6 679.1,722.8 679.6,724.5 680.2,725.3 680.8,726.6 681.4,729.1 682.0,730.2 682.6,730.9 683.2,728.1 683.8,729.0 684.4,729.2 685.0,728.6 685.5,731.5 686.1,730.5 686.7,728.8 687.3,730.8 687.9,727.5 688.5,728.4 689.1,725.1 689.7,725.7 690.3,720.9 690.9,716.7 691.5,704.0 692.0,688.8 692.6,681.1 693.2,687.2 693.8,699.3 694.4,707.4 695.0,705.8 695.6,695.1 696.2,664.4 696.8,586.7 697.4,394.5 697.9,206.8 698.5,394.9 699.1,588.5 699.7,667.9 700.3,698.9 700.9,712.2 701.5,717.9 702.1,716.6 702.7,711.6 703.3,708.3 703.9,713.8 704.4,722.0 705.0,728.4 705.6,730.0 706.2,731.1 706.8,731.9 707.4,733.0 708.0,733.1 708.6,733.7 709.2,730.8 709.8,733.7 710.3,731.6 710.9,731.4 711.5,733.6 712.1,733.6 712.7,732.8 713.3,730.0 713.9,728.9 714.5,729.6 715.1,727.2 715.7,728.0 716.3,724.6 716.8,726.8 717.4,725.3 718.0,727.2 718.6,728.5 719.2,730.2 719.8,732.2 720.4,731.9 721.0,732.7 721.6,734.0 722.2,733.2 722.7,733.7 723.3,733.2 723.9,733.7 724.5,731.3 725.1,732.9 725.7,729.8 726.3,730.5 726.9,727.2 727.5,727.6 728.1,726.0 728.7,724.1 729.2,723.8 729.8,722.6 730.4,725.4 731.0,727.3 731.6,727.4 732.2,731.0 732.8,730.4 733.4,733.1 734.0,731.9 734.6,734.4 735.1,732.0 735.7,735.4 736.3,733.8 736.9,735.6 737.5,734.0 738.1,737.0 738.7,736.9 739.3,733.3 739.9,733.9 740.5,736.6 741.1,736.8 741.6,734.1 742.2,736.8 742.8,737.6 743.4,737.7 744.0,737.2 744.6,734.9 745.2,735.1 745.8,735.0 746.4,736.8 747.0,734.9 747.5,737.1 748.1,734.5 748.7,737.0 749.3,737.3 749.9,737.6 750.5,735.4 751.1,737.1 751.7,737.1 752.3,738.4 752.9,735.2 753.5,737.8 754.0,737.6 754.6,738.0 755.2,734.3 755.8,735.5 756.4,737.2 757.0,737.0 757.6,737.8 758.2,735.2 758.8,734.8 759.4,737.4 760.0,735.3 760.5,737.3 761.1,735.3 761.7,737.5 762.3,737.5 762.9,737.6 763.5,734.7 764.1,735.1 764.7,735.7 765.3,737.5 765.9,737.3 766.4,738.5 767.0,735.4 767.6,737.6 768.2,735.7 768.8,737.9 769.4,735.7 770.0,737.1 770.6,735.1 771.2,736.4 771.8,736.5 772.4,735.9 772.9,736.1 773.5,736.0 774.1,732.5 774.7,732.4 775.3,731.7 775.9,732.3 776.5,732.4 777.1,734.8 777.7,733.7 778.3,736.1 778.8,736.4 779.4,736.6 780.0,735.5 780.6,738.5 781.2,736.1 781.8,735.6 782.4,735.7 783.0,735.9 783.6,738.4 784.2,738.8 784.8,738.3 785.3,738.4 785.9,735.9 786.5,737.8 787.1,738.0 787.7,739.9 788.3,736.4 788.9,735.6 789.5,735.6 790.1,736.5 790.7,736.7 791.2,738.4 791.8,735.8 792.4,735.8 793.0,736.9 793.6,738.6 794.2,736.1 794.8,738.1 795.4,735.8 796.0,739.0 796.6,736.7 797.2,739.9 797.7,737.0 798.3,736.9 798.9,738.4 799.5,738.3 800.1,735.2 800.7,738.4 801.3,738.9 801.9,737.1 802.5,737.0 803.1,738.5 803.6,738.4 804.2,736.8 804.8,737.2 805.4,739.2 806.0,737.3 806.6,738.7 807.2,737.1 807.8,739.2 808.4,736.9 809.0,739.1 809.6,737.2 810.1,739.8 810.7,739.5 811.3,737.5 811.9,736.9 812.5,737.1 813.1,736.6 813.7,738.9 814.3,738.7 814.9,738.9 815.5,737.6 816.0,738.8 816.6,739.0 817.2,738.9 817.8,737.1 818.4,738.7 819.0,737.1 819.6,739.8 820.2,737.2 820.8,739.6 821.4,739.8 822.0,737.5 822.5,738.8 823.1,739.5 823.7,738.9 824.3,739.2 824.9,736.8 825.5,739.1 826.1,737.4 826.7,737.5 827.3,739.4 827.9,737.4 828.4,736.8 829.0,739.6 829.6,737.6 830.2,739.4 830.8,736.9 831.4,739.3 832.0,739.0 832.6,739.9 833.2,737.0 833.8,738.7 834.4,736.8 834.9,739.7 835.5,738.8 836.1,738.2 836.7,737.1 837.3,738.5 837.9,736.6 838.5,738.1 839.1,737.7 839.7,737.1 840.3,737.1 840.8,736.7 841.4,736.0 842.0,734.9 842.6,733.8 843.2,732.5 843.8,730.1 844.4,729.1 845.0,724.5 845.6,716.4 846.2,704.5 846.8,692.8 847.3,687.7 847.9,692.8 848.5,704.9 849.1,716.6 849.7,723.9 850.3,729.0 850.9,731.4 851.5,732.9 852.1,732.6 852.7,734.9 853.2,734.6 853.8,735.0 854.4,735.1 855.0,736.1 855.6,736.3 856.2,736.7 856.8,738.1 857.4,739.4 858.0,737.4 858.6,738.7 859.2,737.1 859.7,737.0 860.3,737.8 860.9,737.7 861.5,737.9 862.1,739.4 862.7,738.0 863.3,739.5 863.9,740.2 864.5,739.4 865.1,738.3 865.6,739.8 866.2,738.3 866.8,738.4 867.4,738.2 868.0,740.2 868.6,740.0 869.2,740.2 869.8,738.5 870.4,740.1 871.0,738.3 871.6,739.9 872.1,738.8 872.7,739.8 873.3,737.5 873.9,739.8 874.5,738.8 875.1,740.0 875.7,739.8 876.3,738.8 876.9,738.3 877.5,737.9 878.1,738.8 878.6,740.7 879.2,738.9 879.8,740.0 880.4,738.4 881.0,740.8 881.6,738.9 882.2,738.8 882.8,738.5 883.4,740.4 884.0,740.0 884.5,741.1 885.1,739.1 885.7,740.0 886.3,740.4 886.9,740.2 887.5,739.1 888.1,740.5 888.7,740.3 889.3,741.0 889.9,739.2 890.5,740.9 891.0,739.2 891.6,740.3 892.2,738.8 892.8,740.9 893.4,738.9 894.0,740.6 894.6,739.3 895.2,738.8 895.8,740.7 896.4,739.4 896.9,740.3 897.5,739.1 898.1,739.4 898.7,740.4 899.3,740.5 899.9,740.5 900.5,740.3 901.1,740.6 901.7,741.1 902.3,740.6 902.9,740.6 903.4,740.3 904.0,738.9 904.6,741.2 905.2,739.4 905.8,741.5 906.4,740.9 907.0,739.3 907.6,738.4 908.2,741.3 908.8,739.5 909.3,740.4 909.9,739.5 910.5,739.2 911.1,738.5 911.7,740.5 912.3,739.2 912.9,738.8 913.5,739.3 914.1,740.6 914.7,739.0 915.3,739.5 915.8,739.3 916.4,740.6 917.0,739.1 917.6,739.2 918.2,739.6 918.8,741.0 919.4,739.3 920.0,741.0 920.6,739.5 921.2,739.7 921.7,739.4 922.3,739.6 922.9,741.3 923.5,739.4 924.1,739.3 924.7,741.0 925.3,738.9 925.9,740.7 926.5,739.4 927.1,739.0 927.7,739.6 928.2,741.4 928.8,741.4 929.4,741.0 930.0,741.5 930.6,741.0 931.2,739.4 931.8,741.1 932.4,739.7 933.0,739.6 933.6,739.7 934.1,739.2 934.7,739.6 935.3,739.5 935.9,739.6 936.5,741.0 937.1,741.0 937.7,740.8 938.3,739.7 938.9,739.6 939.5,739.7 940.1,741.1 940.6,741.5 941.2,741.2 941.8,739.4 942.4,741.2 943.0,739.2 943.6,740.8 944.2,740.9 944.8,739.7 945.4,739.8 946.0,739.6 946.5,739.6 947.1,740.7 947.7,739.2 948.3,740.8 948.9,739.8 949.5,740.6 950.1,739.6 950.7,740.8 951.3,739.4 951.9,739.6 952.5,738.9 953.0,741.3 953.6,741.1 954.2,740.9 954.8,740.9 955.4,740.2 956.0,740.5 956.6,739.9 957.2,738.1 957.8,740.2 958.4,738.0 958.9,737.2 959.5,737.6 960.1,738.5 960.7,736.8 961.3,736.3 961.9,735.4 962.5,736.1 963.1,733.3 963.7,732.6 964.3,730.6 964.9,726.4 965.4,719.5 966.0,710.2 966.6,701.4 967.2,697.7 967.8,701.1 968.4,710.0 969.0,719.6 969.6,726.1 970.2,731.4 970.8,734.0 971.3,734.0 971.9,735.8 972.5,735.5 973.1,737.2 973.7,736.3 974.3,738.4 974.9,737.3 975.5,739.2 976.1,738.1 976.7,739.7 977.3,740.3 977.8,740.1 978.4,739.2 979.0,740.7 979.6,738.7 980.2,739.4 980.8,739.6 981.4,739.8 982.0,740.7 982.6,741.2 983.2,739.9 983.7,740.9 984.3,739.9 984.9,741.3 985.5,740.1 986.1,739.4 986.7,739.8 987.3,739.8 987.9,740.1 988.5,741.1 989.1,740.0 989.7,739.8 990.2,739.5 990.8,741.8 991.4,741.1 992.0,741.2 992.6,739.4 993.2,741.1 993.8,740.1 994.4,740.4 995.0,739.9 995.6,740.2 996.1,740.3 996.7,741.2 997.3,740.3 997.9,741.6 998.5,739.6 999.1,740.4 999.7,741.3 1000.3,741.3 1000.9,742.0 1001.5,741.5 1002.1,740.1 1002.6,741.3 1003.2,740.3 1003.8,739.8 1004.4,741.4 1005.0,742.0 1005.6,741.6 1006.2,740.4 1006.8,740.5 1007.4,741.3 1008.0,740.5 1008.6,742.1 1009.1,740.4 1009.7,741.7 1010.3,740.3 1010.9,740.3 1011.5,741.3 1012.1,741.5 1012.7,740.2 1013.3,739.9 1013.9,740.6 1014.5,741.4 1015.0,740.5 1015.6,740.5 1016.2,740.0 1016.8,741.5 1017.4,740.1 1018.0,742.6 1018.6,740.5 1019.2,741.7 1019.8,739.8 1020.4,741.3 1021.0,742.0 1021.5,741.5 1022.1,741.5 1022.7,742.0 1023.3,741.5 1023.9,740.2 1024.5,740.1 1025.1,741.6 1025.7,740.2 1026.3,742.3 1026.9,741.7 1027.4,741.3 1028.0,740.0 1028.6,741.8 1029.2,741.4 1029.8,740.2 1030.4,740.5 1031.0,741.2 1031.6,740.5 1032.2,741.9 1032.8,740.1 1033.4,740.1 1033.9,741.3 1034.5,741.1 1035.1,740.3 1035.7,739.8 1036.3,741.2 1036.9,741.0 1037.5,740.1 1038.1,741.4 1038.7,739.9 1039.3,740.7 1039.8,740.7 1040.4,740.5 1041.0,740.7 1041.6,740.4 1042.2,740.2 1042.8,739.0 1043.4,739.7 1044.0,738.7 1044.6,738.2 1045.2,737.4 1045.8,737.1 1046.3,738.0 1046.9,736.1 1047.5,736.1 1048.1,734.0 1048.7,732.1 1049.3,728.3 1049.9,723.3 1050.5,716.2 1051.1,710.6 1051.7,708.3 1052.2,710.6 1052.8,716.4 1053.4,723.2 1054.0,728.2 1054.6,732.7 1055.2,734.3 1055.8,736.7 1056.4,736.3 1057.0,737.6 1057.6,738.6 1058.2,738.6 1058.7,738.5 1059.3,739.4 1059.9,738.6 1060.5,739.0 1061.1,739.4 1061.7,740.4 1062.3,739.5 1062.9,740.7 1063.5,739.6 1064.1,740.0 1064.6,739.9 1065.2,741.2 1065.8,741.6 1066.4,741.9 1067.0,740.4 1067.6,741.4 1068.2,740.5 1068.8,741.5 1069.4,741.4 1070.0,740.7 1070.6,740.5 1071.1,740.6 1071.7,741.7 1072.3,741.8 1072.9,740.5 1073.5,740.6 1074.1,739.6 1074.7,741.8 1075.3,741.6 1075.9,741.6 1076.5,740.3 1077.0,742.1 1077.6,741.6 1078.2,740.7 1078.8,740.8 1079.4,740.8 1080.0,740.7 1080.6,741.7 1081.2,740.8 1081.8,742.0 1082.4,741.7 1083.0,741.5 1083.5,741.9 1084.1,740.4 1084.7,741.9 1085.3,742.2 1085.9,741.8 1086.5,741.8 1087.1,740.8 1087.7,741.9 1088.3,740.8 1088.9,741.8 1089.4,740.7 1090.0,742.0 1090.6,740.1 1091.2,741.4 1091.8,741.1 1092.4,741.0 1093.0,740.2 1093.6,740.1 1094.2,739.6 1094.8,740.5 1095.4,739.1 1095.9,738.5 1096.5,738.2 1097.1,738.7 1097.7,737.8 1098.3,737.3 1098.9,736.2 1099.5,735.5 1100.1,734.2 1100.7,734.7 1101.3,734.1 1101.8,734.1 1102.4,735.3 1103.0,737.1 1103.6,736.9 1104.2,738.3 1104.8,738.1 1105.4,739.3 1106.0,738.5 1106.6,740.1 1107.2,740.1 1107.8,740.4 1108.3,739.0 1108.9,739.4 1109.5,739.3 1110.1,739.9 1110.7,739.0 1111.3,739.5 1111.9,738.6 1112.5,738.9 1113.1,737.6 1113.7,738.3 1114.2,736.5 1114.8,736.1 1115.4,735.9 1116.0,735.2 1116.6,732.7 1117.2,730.8 1117.8,725.7 1118.4,718.4 1119.0,708.5 1119.6,699.9 1120.2,696.1 1120.7,699.9 1121.3,708.4 1121.9,718.3 1122.5,725.5 1123.1,730.5 1123.7,733.1 1124.3,734.5 1124.9,734.7 1125.5,736.1 1126.1,736.2 1126.7,737.5 1127.2,736.8 1127.8,737.9 1128.4,737.4 1129.0,738.0 1129.6,737.4 1130.2,738.2 1130.8,736.4 1131.4,737.2 1132.0,736.2 1132.6,736.1 1133.1,733.6 1133.7,731.5 1134.3,726.8 1134.9,721.9 1135.5,717.3 1136.1,715.8 1136.7,717.4 1137.3,722.2 1137.9,727.5 1138.5,731.1 1139.1,734.3 1139.6,736.7 1140.2,736.9 1140.8,738.5 1141.4,738.1 1142.0,738.2 1142.6,739.0 1143.2,740.1 1143.8,739.4 1144.4,740.5 1145.0,739.3 1145.5,741.1 1146.1,740.0 1146.7,741.4 1147.3,740.0 1147.9,741.6 1148.5,740.5 1149.1,741.7 1149.7,740.8 1150.3,741.5 1150.9,740.8 1151.5,741.6 1152.0,741.0 1152.6,741.1 1153.2,740.8 1153.8,741.9 1154.4,742.3 1155.0,741.8 1155.6,742.0 1156.2,742.0 1156.8,741.1 1157.4,742.4 1157.9,741.2 1158.5,742.3 1159.1,742.1 1159.7,742.1 1160.3,742.1 1160.9,741.2 1161.5,742.0 1162.1,742.5 1162.7,741.4 1163.3,742.3 1163.9,741.1 1164.4,742.2 1165.0,741.4 1165.6,741.9 1166.2,741.1 1166.8,742.0 1167.4,741.4 1168.0,742.0 1168.6,741.4 1169.2,742.0 1169.8,741.1 1170.3,741.1 1170.9,741.2 1171.5,742.4 1172.1,741.1 1172.7,741.2 1173.3,742.5 1173.9,741.1 1174.5,741.0 1175.1,740.9 1175.7,741.8 1176.3,740.4 1176.8,740.3 1177.4,740.5 1178.0,741.2 1178.6,740.9 1179.2,739.4 1179.8,740.4 1180.4,738.5 1181.0,738.1 1181.6,737.4 1182.2,737.7 1182.7,736.9 1183.3,737.7 1183.9,737.4 1184.5,738.6 1185.1,738.7 1185.7,738.8 1186.3,739.5 1186.9,739.8 1187.5,740.3 1188.1,741.1 1188.7,740.8 1189.2,740.9 1189.8,741.1 1190.4,741.0 1191.0,741.9 1191.6,741.9 1192.2,741.4 1192.8,742.2 1193.4,741.3 1194.0,742.1 1194.6,741.5 1195.1,741.5 1195.7,742.1 1196.3,742.2 1196.9,741.6 1197.5,742.4 1198.1,740.8 1198.7,742.1 1199.3,741.2 1199.9,742.4 1200.5,741.3 1201.1,741.5 1201.6,741.3 1202.2,742.2 1202.8,741.5 1203.4,741.3 1204.0,741.3 1204.6,741.5 1205.2,741.6 1205.8,741.5 1206.4,741.2 1207.0,742.2 1207.5,742.2 1208.1,742.2 1208.7,741.7 1209.3,742.2 1209.9,741.5 1210.5,742.7 1211.1,742.7 1211.7,742.2 1212.3,741.6 1212.9,742.2 1213.5,741.4 1214.0,742.2 1214.6,741.6 1215.2,742.4 1215.8,742.2 1216.4,741.6 1217.0,741.5 1217.6,742.3 1218.2,741.4 1218.8,741.6 1219.4,741.5 1219.9,742.2 1220.5,741.7 1221.1,742.2 1221.7,741.4 1222.3,741.5 1222.9,742.3 1223.5,741.6 1224.1,741.5 1224.7,742.4 1225.3,742.2 1225.9,742.1 1226.4,742.5 1227.0,741.0 1227.6,741.3 1228.2,741.4 1228.8,742.4 1229.4,742.4 1230.0,742.1 1230.6,741.2 1231.2,741.0 1231.8,740.8 1232.3,741.3 1232.9,741.7 1233.5,741.0 1234.1,741.7 1234.7,740.5 1235.3,741.6 1235.9,740.3 1236.5,740.4 1237.1,740.0 1237.7,739.5 1238.3,739.1 1238.8,738.8 1239.4,738.3 1240.0,738.2 1240.6,736.7 1241.2,736.5 1241.8,734.8 1242.4,734.4 1243.0,734.4 1243.6,734.3 1244.2,734.0 1244.8,734.9 1245.3,735.2 1245.9,736.6 1246.5,736.7 1247.1,738.2 1247.7,738.1 1248.3,738.9 1248.9,739.1 1249.5,740.7 1250.1,739.8 1250.7,740.2 1251.2,740.6 1251.8,740.7 1252.4,740.7 1253.0,741.5 1253.6,741.7 1254.2,741.9 1254.8,741.1 1255.4,742.0 1256.0,741.4 1256.6,742.4 1257.2,742.1 1257.7,742.1 1258.3,741.5 1258.9,742.1 1259.5,741.4 1260.1,742.1 1260.7,741.4 1261.3,742.7 1261.9,741.6 1262.5,741.6 1263.1,741.3 1263.6,742.5 1264.2,741.5 1264.8,741.4 1265.4,741.6 1266.0,742.3 1266.6,741.7 1267.2,742.3 1267.8,741.5 1268.4,742.2 1269.0,741.5 1269.6,742.3 1270.1,741.2 1270.7,742.3 1271.3,741.8 1271.9,742.4 1272.5,741.4 1273.1,741.3 1273.7,741.3 1274.3,742.4 1274.9,741.4 1275.5,742.2 1276.0,741.5 1276.6,742.2 1277.2,741.7 1277.8,742.3 1278.4,741.6 1279.0,742.5 1279.6,741.7 1280.2,742.4 1280.8,742.3 1281.4,741.6 1282.0,742.5 1282.5,742.4 1283.1,741.6 1283.7,742.4 1284.3,742.6 1284.9,741.5 1285.5,741.4 1286.1,742.2 1286.7,742.4 1287.3,742.7 1287.9,742.2 1288.4,742.3 1289.0,741.5 1289.6,742.8 1290.2,742.0 1290.8,742.2 1291.4,741.9" fill="none" stroke="#2e2a2b" stroke-width="2.7" stroke-linejoin="round"/>
<polyline points="344.8,534.2 345.4,527.2 346.0,526.4 346.6,528.1 347.2,534.4 347.8,529.3 348.4,537.2 349.0,529.9 349.6,537.2 350.1,529.6 350.7,537.3 351.3,532.4 351.9,538.1 352.5,538.6 353.1,539.1 353.7,534.3 354.3,544.6 354.9,542.5 355.5,541.6 356.0,541.0 356.6,534.5 357.2,534.4 357.8,543.6 358.4,536.4 359.0,545.0 359.6,546.4 360.2,545.6 360.8,537.4 361.4,546.2 362.0,536.3 362.5,546.8 363.1,538.1 363.7,546.4 364.3,540.5 364.9,539.8 365.5,538.7 366.1,548.6 366.7,539.4 367.3,548.3 367.9,541.8 368.4,548.8 369.0,547.6 369.6,549.9 370.2,541.1 370.8,549.9 371.4,540.9 372.0,550.2 372.6,548.7 373.2,551.4 373.8,543.5 374.4,552.5 374.9,543.6 375.5,553.8 376.1,545.1 376.7,544.3 377.3,545.7 377.9,552.4 378.5,544.2 379.1,552.8 379.7,547.5 380.3,553.5 380.8,548.3 381.4,546.0 382.0,548.1 382.6,554.4 383.2,546.2 383.8,553.7 384.4,555.8 385.0,554.3 385.6,549.1 386.2,555.3 386.8,549.0 387.3,548.2 387.9,551.2 388.5,549.7 389.1,550.7 389.7,558.0 390.3,551.4 390.9,549.5 391.5,551.7 392.1,560.3 392.7,557.2 393.2,558.3 393.8,549.4 394.4,553.8 395.0,554.0 395.6,559.1 396.2,553.9 396.8,553.6 397.4,553.1 398.0,555.1 398.6,553.8 399.2,552.8 399.7,553.5 400.3,559.7 400.9,554.9 401.5,562.8 402.1,553.2 402.7,564.7 403.3,563.7 403.9,563.7 404.5,561.3 405.1,566.0 405.6,553.7 406.2,564.4 406.8,555.7 407.4,562.5 408.0,557.8 408.6,562.5 409.2,557.4 409.8,563.2 410.4,556.6 411.0,563.9 411.6,559.8 412.1,566.1 412.7,556.4 413.3,565.1 413.9,560.2 414.5,565.5 415.1,560.1 415.7,565.5 416.3,560.5 416.9,568.5 417.5,558.2 418.1,566.9 418.6,562.2 419.2,568.4 419.8,561.9 420.4,566.6 421.0,561.9 421.6,568.2 422.2,563.5 422.8,567.1 423.4,570.9 424.0,563.6 424.5,563.5 425.1,570.8 425.7,563.9 426.3,568.5 426.9,561.4 427.5,569.0 428.1,563.9 428.7,570.6 429.3,562.7 429.9,571.6 430.5,572.3 431.0,569.6 431.6,569.8 432.2,570.4 432.8,570.7 433.4,570.8 434.0,574.6 434.6,571.5 435.2,567.4 435.8,572.5 436.4,567.9 436.9,575.5 437.5,567.5 438.1,567.8 438.7,565.5 439.3,567.4 439.9,568.8 440.5,573.1 441.1,572.7 441.7,573.9 442.3,568.5 442.9,574.1 443.4,569.8 444.0,573.3 444.6,573.9 445.2,573.4 445.8,569.4 446.4,575.0 447.0,570.8 447.6,575.8 448.2,570.5 448.8,574.6 449.3,576.1 449.9,575.7 450.5,571.1 451.1,575.2 451.7,572.0 452.3,575.6 452.9,571.1 453.5,578.1 454.1,571.2 454.7,576.1 455.3,571.5 455.8,576.8 456.4,573.1 457.0,576.7 457.6,569.2 458.2,578.5 458.8,572.3 459.4,577.7 460.0,573.3 460.6,581.2 461.2,573.9 461.7,579.5 462.3,572.8 462.9,579.0 463.5,580.7 464.1,578.6 464.7,574.7 465.3,574.7 465.9,571.5 466.5,579.3 467.1,575.9 467.7,574.0 468.2,575.7 468.8,579.3 469.4,575.5 470.0,579.7 470.6,576.4 471.2,580.8 471.8,577.1 472.4,581.0 473.0,580.7 473.6,580.5 474.1,577.1 474.7,582.2 475.3,577.0 475.9,581.2 476.5,576.6 477.1,582.0 477.7,576.7 478.3,581.8 478.9,578.8 479.5,582.6 480.1,578.0 480.6,583.0 481.2,585.3 481.8,579.2 482.4,579.5 483.0,584.0 483.6,583.3 484.2,578.5 484.8,578.4 485.4,578.8 486.0,575.4 486.5,580.6 487.1,580.4 487.7,583.7 488.3,579.5 488.9,585.5 489.5,580.8 490.1,584.0 490.7,580.5 491.3,581.4 491.9,585.1 492.5,585.7 493.0,578.5 493.6,586.2 494.2,586.9 494.8,585.5 495.4,580.1 496.0,585.7 496.6,581.9 497.2,585.6 497.8,586.5 498.4,585.7 498.9,582.6 499.5,587.8 500.1,583.2 500.7,588.0 501.3,583.3 501.9,587.1 502.5,582.5 503.1,587.7 503.7,583.1 504.3,589.8 504.9,583.6 505.4,583.6 506.0,582.4 506.6,587.8 507.2,587.5 507.8,584.5 508.4,585.1 509.0,587.7 509.6,584.6 510.2,588.4 510.8,585.2 511.3,588.9 511.9,584.9 512.5,589.7 513.1,584.4 513.7,590.9 514.3,585.6 514.9,588.9 515.5,589.7 516.1,585.2 516.7,585.7 517.3,586.7 517.8,586.8 518.4,591.1 519.0,589.9 519.6,589.9 520.2,590.9 520.8,590.4 521.4,585.7 522.0,590.4 522.6,586.8 523.2,590.8 523.8,586.8 524.3,588.1 524.9,593.8 525.5,591.1 526.1,591.9 526.7,590.8 527.3,591.0 527.9,592.3 528.5,588.8 529.1,592.3 529.7,586.1 530.2,592.2 530.8,587.9 531.4,592.1 532.0,589.0 532.6,592.0 533.2,589.4 533.8,593.2 534.4,587.7 535.0,589.5 535.6,589.0 536.2,593.1 536.7,590.0 537.3,593.1 537.9,589.6 538.5,593.5 539.1,588.6 539.7,593.2 540.3,589.7 540.9,593.1 541.5,590.0 542.1,594.7 542.6,588.3 543.2,593.5 543.8,595.3 544.4,594.1 545.0,590.6 545.6,594.0 546.2,594.5 546.8,594.0 547.4,590.8 548.0,591.1 548.6,595.2 549.1,593.9 549.7,591.8 550.3,595.3 550.9,590.6 551.5,594.6 552.1,591.3 552.7,594.7 553.3,591.3 553.9,594.6 554.5,595.9 555.0,595.4 555.6,590.8 556.2,596.4 556.8,591.7 557.4,595.3 558.0,596.6 558.6,590.2 559.2,596.5 559.8,596.6 560.4,592.5 561.0,592.8 561.5,596.3 562.1,595.7 562.7,592.5 563.3,590.8 563.9,593.5 564.5,593.3 565.1,592.8 565.7,596.7 566.3,593.5 566.9,595.9 567.4,593.1 568.0,592.1 568.6,596.3 569.2,597.1 569.8,593.3 570.4,591.8 571.0,596.2 571.6,598.1 572.2,593.3 572.8,597.4 573.4,593.1 573.9,598.1 574.5,594.3 575.1,597.3 575.7,593.4 576.3,596.9 576.9,593.9 577.5,597.9 578.1,593.4 578.7,594.7 579.3,594.6 579.8,597.6 580.4,592.2 581.0,598.9 581.6,598.0 582.2,595.1 582.8,598.3 583.4,597.6 584.0,593.7 584.6,597.4 585.2,597.5 585.8,594.5 586.3,598.6 586.9,594.9 587.5,595.4 588.1,599.8 588.7,599.1 589.3,597.9 589.9,595.2 590.5,598.1 591.1,598.5 591.7,595.8 592.2,595.7 592.8,598.2 593.4,595.5 594.0,598.2 594.6,594.5 595.2,595.9 595.8,595.5 596.4,598.4 597.0,599.0 597.6,598.6 598.2,596.0 598.7,599.5 599.3,600.8 599.9,598.9 600.5,584.0 601.1,583.2 601.7,595.4 602.3,599.1 602.9,595.7 603.5,599.7 604.1,596.9 604.6,596.3 605.2,599.7 605.8,595.2 606.4,595.9 607.0,599.0 607.6,597.1 608.2,599.1 608.8,599.2 609.4,599.5 610.0,599.9 610.6,599.8 611.1,596.6 611.7,597.1 612.3,599.8 612.9,599.5 613.5,595.5 614.1,600.1 614.7,599.4 615.3,599.5 615.9,597.3 616.5,599.7 617.0,597.1 617.6,601.5 618.2,597.4 618.8,600.5 619.4,596.1 620.0,600.2 620.6,599.7 621.2,600.4 621.8,600.7 622.4,600.0 623.0,597.0 623.5,600.9 624.1,597.1 624.7,600.5 625.3,596.9 625.9,597.8 626.5,595.4 627.1,601.1 627.7,597.3 628.3,599.6 628.9,596.8 629.4,599.2 630.0,598.9 630.6,599.2 631.2,596.7 631.8,599.2 632.4,595.3 633.0,598.0 633.6,593.8 634.2,595.2 634.8,592.6 635.4,592.5 635.9,589.5 636.5,588.6 637.1,583.2 637.7,572.9 638.3,554.9 638.9,534.5 639.5,525.5 640.1,535.3 640.7,555.5 641.3,573.0 641.9,582.4 642.4,586.7 643.0,591.3 643.6,592.9 644.2,592.3 644.8,595.0 645.4,593.9 646.0,593.8 646.6,596.2 647.2,596.1 647.8,593.4 648.3,596.5 648.9,594.0 649.5,594.4 650.1,595.3 650.7,599.7 651.3,596.6 651.9,599.9 652.5,599.9 653.1,596.6 653.7,597.0 654.3,600.4 654.8,597.8 655.4,600.9 656.0,596.9 656.6,598.4 657.2,595.6 657.8,596.2 658.4,591.7 659.0,591.9 659.6,589.2 660.2,590.1 660.7,591.6 661.3,593.2 661.9,595.8 662.5,596.6 663.1,594.8 663.7,596.5 664.3,594.5 664.9,592.9 665.5,590.8 666.1,589.8 666.7,589.0 667.2,591.9 667.8,590.9 668.4,593.0 669.0,590.7 669.6,591.5 670.2,588.5 670.8,587.7 671.4,583.4 672.0,577.6 672.6,563.4 673.1,539.7 673.7,512.1 674.3,499.1 674.9,511.6 675.5,539.9 676.1,564.1 676.7,578.5 677.3,585.1 677.9,587.8 678.5,589.9 679.1,592.5 679.6,593.8 680.2,595.3 680.8,598.1 681.4,598.5 682.0,599.8 682.6,599.7 683.2,598.6 683.8,600.5 684.4,598.5 685.0,600.5 685.5,598.8 686.1,598.3 686.7,598.4 687.3,599.8 687.9,597.5 688.5,596.6 689.1,596.7 689.7,595.1 690.3,591.6 690.9,586.9 691.5,574.4 692.0,559.9 692.6,551.8 693.2,558.8 693.8,572.3 694.4,582.1 695.0,585.4 695.6,582.2 696.2,573.1 696.8,550.3 697.4,486.5 697.9,319.1 698.5,139.5 699.1,319.6 699.7,487.6 700.3,551.5 700.9,575.4 701.5,584.5 702.1,585.0 702.7,580.8 703.3,577.4 703.9,584.0 704.4,591.5 705.0,597.5 705.6,598.3 706.2,600.8 706.8,599.9 707.4,602.7 708.0,600.8 708.6,601.1 709.2,600.0 709.8,600.3 710.3,601.3 710.9,603.1 711.5,601.2 712.1,600.7 712.7,600.2 713.3,601.8 713.9,598.0 714.5,599.8 715.1,596.1 715.7,594.9 716.3,594.5 716.8,595.5 717.4,594.7 718.0,595.7 718.6,596.2 719.2,598.2 719.8,600.7 720.4,600.1 721.0,600.4 721.6,602.7 722.2,602.6 722.7,603.4 723.3,601.4 723.9,603.3 724.5,602.6 725.1,601.7 725.7,598.9 726.3,599.6 726.9,596.5 727.5,597.5 728.1,593.9 728.7,594.2 729.2,591.8 729.8,593.7 730.4,593.6 731.0,595.8 731.6,596.2 732.2,601.0 732.8,599.9 733.4,602.3 734.0,603.3 734.6,602.2 735.1,602.1 735.7,604.9 736.3,603.0 736.9,605.6 737.5,603.7 738.1,607.5 738.7,602.5 739.3,606.0 739.9,603.8 740.5,606.3 741.1,604.2 741.6,607.2 742.2,604.3 742.8,605.9 743.4,603.1 744.0,607.5 744.6,604.5 745.2,607.3 745.8,604.3 746.4,606.2 747.0,604.6 747.5,606.2 748.1,604.4 748.7,604.9 749.3,607.1 749.9,606.5 750.5,604.0 751.1,604.6 751.7,604.2 752.3,606.8 752.9,604.8 753.5,606.6 754.0,607.2 754.6,606.5 755.2,603.9 755.8,606.8 756.4,603.2 757.0,605.2 757.6,605.0 758.2,604.3 758.8,606.6 759.4,606.8 760.0,608.0 760.5,605.1 761.1,608.0 761.7,607.6 762.3,605.0 762.9,604.9 763.5,604.6 764.1,606.8 764.7,606.8 765.3,605.3 765.9,604.6 766.4,605.2 767.0,604.8 767.6,607.7 768.2,606.8 768.8,607.7 769.4,604.2 770.0,606.3 770.6,606.2 771.2,606.2 771.8,606.5 772.4,604.0 772.9,603.4 773.5,602.9 774.1,604.3 774.7,604.7 775.3,603.4 775.9,604.5 776.5,602.2 777.1,603.2 777.7,604.9 778.3,606.2 778.8,604.7 779.4,604.2 780.0,604.0 780.6,606.7 781.2,604.9 781.8,607.1 782.4,605.0 783.0,605.7 783.6,605.0 784.2,607.5 784.8,605.8 785.3,607.7 785.9,605.3 786.5,607.5 787.1,605.7 787.7,608.7 788.3,606.1 788.9,607.9 789.5,607.9 790.1,608.5 790.7,608.2 791.2,608.0 791.8,606.0 792.4,608.2 793.0,606.1 793.6,607.7 794.2,606.5 794.8,607.7 795.4,606.4 796.0,606.6 796.6,606.4 797.2,605.6 797.7,606.2 798.3,608.2 798.9,606.1 799.5,608.1 800.1,606.5 800.7,607.9 801.3,605.6 801.9,608.7 802.5,608.3 803.1,608.9 803.6,608.5 804.2,606.6 804.8,606.2 805.4,606.6 806.0,606.7 806.6,609.3 807.2,605.1 807.8,608.4 808.4,608.0 809.0,608.5 809.6,606.4 810.1,608.7 810.7,609.4 811.3,608.2 811.9,606.4 812.5,606.6 813.1,606.9 813.7,608.7 814.3,606.9 814.9,608.9 815.5,606.7 816.0,609.1 816.6,606.9 817.2,609.3 817.8,608.8 818.4,609.3 819.0,608.3 819.6,609.2 820.2,607.0 820.8,608.9 821.4,606.6 822.0,609.1 822.5,607.2 823.1,608.4 823.7,607.2 824.3,606.9 824.9,607.0 825.5,609.0 826.1,607.1 826.7,609.0 827.3,607.0 827.9,608.7 828.4,606.8 829.0,607.0 829.6,606.5 830.2,608.5 830.8,607.1 831.4,608.7 832.0,606.4 832.6,610.1 833.2,607.1 833.8,608.8 834.4,606.4 834.9,609.4 835.5,606.7 836.1,608.6 836.7,609.0 837.3,606.1 837.9,607.8 838.5,607.3 839.1,606.8 839.7,607.4 840.3,605.0 840.8,605.8 841.4,603.7 842.0,603.0 842.6,604.8 843.2,602.3 843.8,600.9 844.4,598.4 845.0,594.2 845.6,586.0 846.2,574.4 846.8,562.6 847.3,557.3 847.9,562.4 848.5,574.5 849.1,585.8 849.7,593.6 850.3,598.7 850.9,600.1 851.5,602.8 852.1,602.2 852.7,604.5 853.2,605.1 853.8,606.4 854.4,604.9 855.0,607.0 855.6,607.6 856.2,606.2 856.8,606.4 857.4,608.3 858.0,605.8 858.6,608.4 859.2,607.4 859.7,609.0 860.3,606.4 860.9,609.2 861.5,607.0 862.1,607.8 862.7,607.7 863.3,609.1 863.9,607.3 864.5,609.2 865.1,607.5 865.6,609.2 866.2,609.1 866.8,609.9 867.4,607.3 868.0,608.0 868.6,609.5 869.2,609.5 869.8,609.3 870.4,611.1 871.0,608.1 871.6,609.7 872.1,608.2 872.7,607.7 873.3,608.2 873.9,609.7 874.5,610.8 875.1,609.8 875.7,608.4 876.3,608.5 876.9,608.5 877.5,609.5 878.1,608.3 878.6,609.5 879.2,610.0 879.8,609.9 880.4,608.5 881.0,607.9 881.6,609.6 882.2,610.1 882.8,607.7 883.4,610.0 884.0,608.7 884.5,609.8 885.1,610.2 885.7,609.9 886.3,610.1 886.9,608.4 887.5,608.2 888.1,609.9 888.7,609.8 889.3,610.4 889.9,608.7 890.5,609.8 891.0,610.8 891.6,610.4 892.2,608.6 892.8,609.8 893.4,608.6 894.0,610.4 894.6,608.9 895.2,609.9 895.8,608.4 896.4,610.5 896.9,608.2 897.5,609.8 898.1,608.4 898.7,610.4 899.3,608.9 899.9,610.5 900.5,609.9 901.1,610.7 901.7,610.1 902.3,608.8 902.9,608.3 903.4,608.3 904.0,610.0 904.6,610.4 905.2,608.8 905.8,608.5 906.4,608.2 907.0,608.7 907.6,608.4 908.2,610.4 908.8,609.1 909.3,609.0 909.9,608.7 910.5,610.5 911.1,609.1 911.7,610.2 912.3,608.3 912.9,610.9 913.5,607.8 914.1,609.1 914.7,609.1 915.3,608.9 915.8,608.5 916.4,610.2 917.0,609.1 917.6,610.3 918.2,608.5 918.8,610.5 919.4,609.0 920.0,610.2 920.6,610.3 921.2,610.5 921.7,608.9 922.3,610.7 922.9,609.0 923.5,610.2 924.1,610.3 924.7,610.2 925.3,609.1 925.9,609.1 926.5,609.0 927.1,610.3 927.7,608.7 928.2,610.8 928.8,610.6 929.4,610.3 930.0,609.3 930.6,609.1 931.2,608.0 931.8,609.3 932.4,609.2 933.0,610.8 933.6,608.7 934.1,610.6 934.7,609.2 935.3,610.7 935.9,610.8 936.5,609.2 937.1,608.8 937.7,610.6 938.3,609.4 938.9,610.2 939.5,608.6 940.1,610.5 940.6,609.3 941.2,610.8 941.8,609.4 942.4,610.3 943.0,610.5 943.6,609.0 944.2,610.5 944.8,610.7 945.4,609.2 946.0,610.3 946.5,609.3 947.1,610.3 947.7,609.2 948.3,611.1 948.9,608.5 949.5,610.6 950.1,609.2 950.7,610.1 951.3,610.3 951.9,610.1 952.5,610.5 953.0,610.5 953.6,609.0 954.2,610.5 954.8,608.6 955.4,610.1 956.0,607.2 956.6,610.0 957.2,608.3 957.8,608.2 958.4,608.8 958.9,607.6 959.5,607.2 960.1,608.1 960.7,605.9 961.3,606.7 961.9,605.1 962.5,605.9 963.1,603.7 963.7,603.3 964.3,599.8 964.9,596.9 965.4,589.1 966.0,579.6 966.6,570.8 967.2,567.3 967.8,570.9 968.4,579.8 969.0,589.1 969.6,595.6 970.2,599.9 970.8,603.2 971.3,603.6 971.9,604.3 972.5,605.4 973.1,607.4 973.7,606.2 974.3,607.2 974.9,607.3 975.5,607.3 976.1,608.1 976.7,609.3 977.3,608.0 977.8,609.7 978.4,608.3 979.0,609.9 979.6,610.0 980.2,610.1 980.8,609.2 981.4,610.3 982.0,609.2 982.6,610.3 983.2,609.3 983.7,610.4 984.3,609.6 984.9,609.6 985.5,609.6 986.1,610.6 986.7,609.0 987.3,610.5 987.9,609.5 988.5,610.7 989.1,609.6 989.7,609.8 990.2,609.8 990.8,610.7 991.4,609.9 992.0,609.8 992.6,609.8 993.2,611.4 993.8,609.5 994.4,608.8 995.0,609.7 995.6,611.2 996.1,609.5 996.7,610.8 997.3,611.2 997.9,610.8 998.5,610.0 999.1,609.4 999.7,611.1 1000.3,611.0 1000.9,609.7 1001.5,611.5 1002.1,611.0 1002.6,609.9 1003.2,610.0 1003.8,611.1 1004.4,609.4 1005.0,611.1 1005.6,609.5 1006.2,611.0 1006.8,610.9 1007.4,610.0 1008.0,610.1 1008.6,611.0 1009.1,611.2 1009.7,611.2 1010.3,611.6 1010.9,610.1 1011.5,610.0 1012.1,609.8 1012.7,609.5 1013.3,611.1 1013.9,609.9 1014.5,611.2 1015.0,611.2 1015.6,610.9 1016.2,610.9 1016.8,611.3 1017.4,610.1 1018.0,611.3 1018.6,610.1 1019.2,611.1 1019.8,611.0 1020.4,611.0 1021.0,610.1 1021.5,610.2 1022.1,609.8 1022.7,611.5 1023.3,609.8 1023.9,611.2 1024.5,610.1 1025.1,611.5 1025.7,610.2 1026.3,611.2 1026.9,609.0 1027.4,611.3 1028.0,609.8 1028.6,609.8 1029.2,609.7 1029.8,611.7 1030.4,610.1 1031.0,611.2 1031.6,609.6 1032.2,611.0 1032.8,611.0 1033.4,609.7 1033.9,609.9 1034.5,610.9 1035.1,609.5 1035.7,611.5 1036.3,609.8 1036.9,610.9 1037.5,609.5 1038.1,609.8 1038.7,609.2 1039.3,610.4 1039.8,609.4 1040.4,610.1 1041.0,609.3 1041.6,609.9 1042.2,609.7 1042.8,610.0 1043.4,608.3 1044.0,609.1 1044.6,607.8 1045.2,608.3 1045.8,607.0 1046.3,607.5 1046.9,605.5 1047.5,605.7 1048.1,604.4 1048.7,602.3 1049.3,598.1 1049.9,592.4 1050.5,585.8 1051.1,580.2 1051.7,577.7 1052.2,580.1 1052.8,585.8 1053.4,592.8 1054.0,598.0 1054.6,602.3 1055.2,603.7 1055.8,606.0 1056.4,605.9 1057.0,607.6 1057.6,607.0 1058.2,607.4 1058.7,607.7 1059.3,609.0 1059.9,608.4 1060.5,609.7 1061.1,610.1 1061.7,610.5 1062.3,610.5 1062.9,610.9 1063.5,610.5 1064.1,609.2 1064.6,609.9 1065.2,610.7 1065.8,610.8 1066.4,611.5 1067.0,610.8 1067.6,610.8 1068.2,609.9 1068.8,610.9 1069.4,611.3 1070.0,611.2 1070.6,611.0 1071.1,611.4 1071.7,610.3 1072.3,611.2 1072.9,611.9 1073.5,611.4 1074.1,611.2 1074.7,611.6 1075.3,610.1 1075.9,610.1 1076.5,610.3 1077.0,610.3 1077.6,610.1 1078.2,610.4 1078.8,611.6 1079.4,611.7 1080.0,610.4 1080.6,611.3 1081.2,610.4 1081.8,611.8 1082.4,610.2 1083.0,610.5 1083.5,610.2 1084.1,610.0 1084.7,610.2 1085.3,611.6 1085.9,611.1 1086.5,611.2 1087.1,610.3 1087.7,610.4 1088.3,610.3 1088.9,611.2 1089.4,610.2 1090.0,611.2 1090.6,609.8 1091.2,610.2 1091.8,610.0 1092.4,610.6 1093.0,609.9 1093.6,610.5 1094.2,609.4 1094.8,610.2 1095.4,608.8 1095.9,609.6 1096.5,608.0 1097.1,607.3 1097.7,606.8 1098.3,606.5 1098.9,605.9 1099.5,604.9 1100.1,603.5 1100.7,604.2 1101.3,603.7 1101.8,604.8 1102.4,604.6 1103.0,605.8 1103.6,607.2 1104.2,608.1 1104.8,609.0 1105.4,608.9 1106.0,609.4 1106.6,609.7 1107.2,608.6 1107.8,609.8 1108.3,610.0 1108.9,609.8 1109.5,608.8 1110.1,609.9 1110.7,609.5 1111.3,609.2 1111.9,607.9 1112.5,608.7 1113.1,607.2 1113.7,607.0 1114.2,607.0 1114.8,606.4 1115.4,605.6 1116.0,604.5 1116.6,602.4 1117.2,600.5 1117.8,595.3 1118.4,587.9 1119.0,578.1 1119.6,569.5 1120.2,565.7 1120.7,569.3 1121.3,578.0 1121.9,587.9 1122.5,595.1 1123.1,599.6 1123.7,601.9 1124.3,604.2 1124.9,604.5 1125.5,605.9 1126.1,605.8 1126.7,607.0 1127.2,607.2 1127.8,607.7 1128.4,606.7 1129.0,607.9 1129.6,606.9 1130.2,606.4 1130.8,606.6 1131.4,606.9 1132.0,605.4 1132.6,606.0 1133.1,604.2 1133.7,600.6 1134.3,596.7 1134.9,591.3 1135.5,586.9 1136.1,585.4 1136.7,587.0 1137.3,591.8 1137.9,596.7 1138.5,601.8 1139.1,603.5 1139.6,605.6 1140.2,607.2 1140.8,608.2 1141.4,608.3 1142.0,609.2 1142.6,609.3 1143.2,609.9 1143.8,609.9 1144.4,609.2 1145.0,609.5 1145.5,610.4 1146.1,609.7 1146.7,611.0 1147.3,610.1 1147.9,611.1 1148.5,610.2 1149.1,611.1 1149.7,610.1 1150.3,610.1 1150.9,610.4 1151.5,611.4 1152.0,611.4 1152.6,611.3 1153.2,610.6 1153.8,610.6 1154.4,611.5 1155.0,610.8 1155.6,609.9 1156.2,611.8 1156.8,610.6 1157.4,611.8 1157.9,610.0 1158.5,611.8 1159.1,610.7 1159.7,611.6 1160.3,610.9 1160.9,611.7 1161.5,610.9 1162.1,610.9 1162.7,611.0 1163.3,611.6 1163.9,610.7 1164.4,612.0 1165.0,610.8 1165.6,611.5 1166.2,610.9 1166.8,612.2 1167.4,610.5 1168.0,612.0 1168.6,611.8 1169.2,610.8 1169.8,611.7 1170.3,611.6 1170.9,612.1 1171.5,611.6 1172.1,610.9 1172.7,611.6 1173.3,611.4 1173.9,611.4 1174.5,611.4 1175.1,611.4 1175.7,611.3 1176.3,609.9 1176.8,610.1 1177.4,609.8 1178.0,609.9 1178.6,609.2 1179.2,609.1 1179.8,609.4 1180.4,608.2 1181.0,608.2 1181.6,607.2 1182.2,607.5 1182.7,606.8 1183.3,607.4 1183.9,607.9 1184.5,608.2 1185.1,608.0 1185.7,608.7 1186.3,609.3 1186.9,610.3 1187.5,609.6 1188.1,610.8 1188.7,610.2 1189.2,611.2 1189.8,610.6 1190.4,611.5 1191.0,610.5 1191.6,611.5 1192.2,610.9 1192.8,611.6 1193.4,611.0 1194.0,611.8 1194.6,611.0 1195.1,611.9 1195.7,610.8 1196.3,612.0 1196.9,611.0 1197.5,612.2 1198.1,610.9 1198.7,611.0 1199.3,610.3 1199.9,611.7 1200.5,611.0 1201.1,611.8 1201.6,610.8 1202.2,611.2 1202.8,611.9 1203.4,612.0 1204.0,611.2 1204.6,612.2 1205.2,611.1 1205.8,611.2 1206.4,610.8 1207.0,611.8 1207.5,611.0 1208.1,611.1 1208.7,611.9 1209.3,611.9 1209.9,611.0 1210.5,610.8 1211.1,611.0 1211.7,611.8 1212.3,612.5 1212.9,611.8 1213.5,611.1 1214.0,611.9 1214.6,612.0 1215.2,612.0 1215.8,610.8 1216.4,611.8 1217.0,612.3 1217.6,612.3 1218.2,611.3 1218.8,611.8 1219.4,611.1 1219.9,611.1 1220.5,611.0 1221.1,612.2 1221.7,611.2 1222.3,612.2 1222.9,610.9 1223.5,612.1 1224.1,610.9 1224.7,611.8 1225.3,611.0 1225.9,611.9 1226.4,610.7 1227.0,611.0 1227.6,610.7 1228.2,611.0 1228.8,610.9 1229.4,610.9 1230.0,610.7 1230.6,611.9 1231.2,611.6 1231.8,611.4 1232.3,610.8 1232.9,610.8 1233.5,611.2 1234.1,611.1 1234.7,610.5 1235.3,611.0 1235.9,610.1 1236.5,610.4 1237.1,609.7 1237.7,609.9 1238.3,608.8 1238.8,609.1 1239.4,607.6 1240.0,607.7 1240.6,607.0 1241.2,606.2 1241.8,604.8 1242.4,604.5 1243.0,603.6 1243.6,603.8 1244.2,603.4 1244.8,604.5 1245.3,604.8 1245.9,606.2 1246.5,606.3 1247.1,607.7 1247.7,607.6 1248.3,609.0 1248.9,608.6 1249.5,610.1 1250.1,609.5 1250.7,610.6 1251.2,610.1 1251.8,610.3 1252.4,610.6 1253.0,610.3 1253.6,611.3 1254.2,610.8 1254.8,610.5 1255.4,611.7 1256.0,611.7 1256.6,611.7 1257.2,610.8 1257.7,611.8 1258.3,611.0 1258.9,611.7 1259.5,611.0 1260.1,611.2 1260.7,611.1 1261.3,611.2 1261.9,610.9 1262.5,611.9 1263.1,610.6 1263.6,611.2 1264.2,610.8 1264.8,611.8 1265.4,611.2 1266.0,611.0 1266.6,612.0 1267.2,611.8 1267.8,611.3 1268.4,612.2 1269.0,611.3 1269.6,611.9 1270.1,610.9 1270.7,611.9 1271.3,611.4 1271.9,612.0 1272.5,611.3 1273.1,612.1 1273.7,611.0 1274.3,611.4 1274.9,611.2 1275.5,611.2 1276.0,611.1 1276.6,611.9 1277.2,611.0 1277.8,612.4 1278.4,612.3 1279.0,612.2 1279.6,611.0 1280.2,611.9 1280.8,611.1 1281.4,612.0 1282.0,611.2 1282.5,611.4 1283.1,611.2 1283.7,611.8 1284.3,611.3 1284.9,612.3 1285.5,611.1 1286.1,611.3 1286.7,611.2 1287.3,611.9 1287.9,611.4 1288.4,611.9 1289.0,611.3 1289.6,612.0 1290.2,611.6 1290.8,611.7 1291.4,611.6" fill="none" stroke="#2e2a2b" stroke-width="2.7" stroke-linejoin="round"/>
<polyline points="344.8,396.9 345.4,404.0 346.0,396.7 346.6,394.7 347.2,404.7 347.8,405.9 348.4,400.6 349.0,397.2 349.6,400.5 350.1,408.4 350.7,401.4 351.3,399.5 351.9,410.5 352.5,403.4 353.1,404.0 353.7,403.4 354.3,401.6 354.9,404.4 355.5,412.5 356.0,415.6 356.6,410.8 357.2,403.3 357.8,405.7 358.4,412.6 359.0,413.5 359.6,406.7 360.2,407.9 360.8,407.3 361.4,417.0 362.0,408.7 362.5,418.7 363.1,409.6 363.7,416.6 364.3,407.8 364.9,416.4 365.5,410.2 366.1,415.6 366.7,410.0 367.3,420.5 367.9,417.6 368.4,418.7 369.0,420.1 369.6,411.9 370.2,418.5 370.8,418.8 371.4,413.4 372.0,420.0 372.6,413.8 373.2,421.1 373.8,414.1 374.4,422.5 374.9,414.2 375.5,422.6 376.1,411.4 376.7,422.3 377.3,414.5 377.9,424.7 378.5,416.0 379.1,423.1 379.7,413.2 380.3,422.1 380.8,423.3 381.4,422.4 382.0,412.7 382.6,418.7 383.2,417.5 383.8,426.2 384.4,418.9 385.0,427.5 385.6,419.9 386.2,418.6 386.8,419.0 387.3,425.9 387.9,420.2 388.5,425.3 389.1,427.0 389.7,427.1 390.3,416.0 390.9,426.4 391.5,422.0 392.1,421.3 392.7,423.0 393.2,427.5 393.8,420.5 394.4,420.6 395.0,428.2 395.6,428.0 396.2,418.9 396.8,432.9 397.4,424.3 398.0,425.1 398.6,424.2 399.2,431.8 399.7,424.6 400.3,425.5 400.9,425.3 401.5,430.3 402.1,424.7 402.7,425.8 403.3,425.3 403.9,426.0 404.5,427.0 405.1,425.4 405.6,432.6 406.2,432.4 406.8,427.5 407.4,433.5 408.0,428.0 408.6,427.5 409.2,429.0 409.8,435.0 410.4,429.5 411.0,435.2 411.6,429.1 412.1,435.1 412.7,434.0 413.3,436.5 413.9,428.0 414.5,438.3 415.1,430.5 415.7,435.7 416.3,431.4 416.9,436.1 417.5,426.4 418.1,437.8 418.6,432.4 419.2,436.0 419.8,438.3 420.4,438.8 421.0,437.8 421.6,437.3 422.2,432.7 422.8,432.3 423.4,431.7 424.0,438.2 424.5,431.6 425.1,439.5 425.7,440.1 426.3,443.8 426.9,433.5 427.5,439.4 428.1,434.4 428.7,441.2 429.3,439.7 429.9,439.3 430.5,434.3 431.0,440.1 431.6,440.5 432.2,435.8 432.8,434.9 433.4,440.6 434.0,434.5 434.6,441.8 435.2,436.1 435.8,436.3 436.4,437.3 436.9,438.1 437.5,441.8 438.1,441.7 438.7,437.5 439.3,437.9 439.9,435.2 440.5,437.9 441.1,443.3 441.7,446.0 442.3,435.3 442.9,442.9 443.4,443.3 444.0,445.0 444.6,438.3 445.2,443.7 445.8,439.1 446.4,444.5 447.0,438.5 447.6,445.3 448.2,437.4 448.8,446.4 449.3,440.8 449.9,444.7 450.5,441.0 451.1,447.1 451.7,440.7 452.3,447.1 452.9,442.2 453.5,446.9 454.1,447.8 454.7,446.1 455.3,440.9 455.8,440.4 456.4,442.5 457.0,442.9 457.6,447.0 458.2,447.2 458.8,441.2 459.4,447.3 460.0,449.6 460.6,444.2 461.2,447.6 461.7,449.5 462.3,447.9 462.9,444.5 463.5,444.8 464.1,448.8 464.7,443.2 465.3,450.1 465.9,448.9 466.5,445.1 467.1,445.8 467.7,449.7 468.2,450.3 468.8,449.7 469.4,444.7 470.0,450.0 470.6,444.7 471.2,450.8 471.8,452.9 472.4,451.4 473.0,452.1 473.6,447.3 474.1,451.7 474.7,450.8 475.3,453.3 475.9,451.5 476.5,445.0 477.1,451.4 477.7,452.2 478.3,451.9 478.9,448.8 479.5,452.2 480.1,452.5 480.6,455.4 481.2,449.5 481.8,452.5 482.4,448.7 483.0,447.8 483.6,447.5 484.2,453.7 484.8,447.4 485.4,455.1 486.0,449.2 486.5,450.2 487.1,449.0 487.7,453.5 488.3,451.0 488.9,455.4 489.5,454.9 490.1,450.9 490.7,454.1 491.3,451.3 491.9,450.9 492.5,449.4 493.0,449.6 493.6,455.7 494.2,452.0 494.8,456.4 495.4,449.1 496.0,457.7 496.6,452.2 497.2,458.1 497.8,452.9 498.4,456.4 498.9,449.9 499.5,451.9 500.1,453.0 500.7,456.4 501.3,451.7 501.9,457.1 502.5,452.9 503.1,457.1 503.7,452.5 504.3,454.0 504.9,457.1 505.4,458.6 506.0,453.5 506.6,458.3 507.2,453.6 507.8,458.0 508.4,454.8 509.0,458.3 509.6,454.7 510.2,458.5 510.8,454.8 511.3,453.9 511.9,459.1 512.5,455.7 513.1,455.9 513.7,459.9 514.3,454.0 514.9,458.9 515.5,456.0 516.1,460.2 516.7,456.4 517.3,456.3 517.8,455.4 518.4,460.8 519.0,455.3 519.6,460.8 520.2,456.8 520.8,460.9 521.4,460.9 522.0,456.7 522.6,456.6 523.2,460.4 523.8,455.5 524.3,461.9 524.9,457.0 525.5,456.4 526.1,457.0 526.7,463.6 527.3,461.5 527.9,461.0 528.5,458.3 529.1,461.6 529.7,458.8 530.2,461.3 530.8,457.1 531.4,463.6 532.0,457.8 532.6,461.8 533.2,458.0 533.8,462.6 534.4,459.6 535.0,463.9 535.6,459.5 536.2,463.3 536.7,459.6 537.3,459.8 537.9,459.2 538.5,462.6 539.1,460.1 539.7,463.7 540.3,462.9 540.9,463.2 541.5,459.2 542.1,460.7 542.6,459.3 543.2,464.0 543.8,460.5 544.4,463.7 545.0,460.4 545.6,463.8 546.2,459.5 546.8,463.4 547.4,459.8 548.0,461.1 548.6,460.1 549.1,460.4 549.7,461.5 550.3,465.0 550.9,461.0 551.5,464.6 552.1,465.1 552.7,464.9 553.3,461.6 553.9,465.9 554.5,465.3 555.0,461.3 555.6,465.3 556.2,466.1 556.8,462.0 557.4,464.9 558.0,462.4 558.6,462.1 559.2,462.5 559.8,465.8 560.4,462.6 561.0,465.0 561.5,462.4 562.1,461.4 562.7,462.5 563.3,465.3 563.9,462.1 564.5,465.9 565.1,463.3 565.7,465.8 566.3,462.9 566.9,465.6 567.4,467.1 568.0,461.1 568.6,462.6 569.2,466.4 569.8,462.2 570.4,465.8 571.0,463.2 571.6,463.4 572.2,463.8 572.8,466.1 573.4,467.1 573.9,466.9 574.5,463.1 575.1,463.8 575.7,462.4 576.3,466.9 576.9,464.2 577.5,468.2 578.1,462.5 578.7,462.3 579.3,463.1 579.8,467.9 580.4,463.0 581.0,467.0 581.6,464.5 582.2,466.9 582.8,467.2 583.4,467.9 584.0,465.0 584.6,464.0 585.2,464.9 585.8,467.5 586.3,464.5 586.9,465.1 587.5,465.0 588.1,467.3 588.7,468.3 589.3,467.6 589.9,467.8 590.5,464.1 591.1,465.3 591.7,468.4 592.2,468.5 592.8,468.1 593.4,464.9 594.0,469.1 594.6,465.5 595.2,468.5 595.8,465.4 596.4,469.0 597.0,465.6 597.6,469.0 598.2,466.0 598.7,468.2 599.3,465.9 599.9,465.9 600.5,453.9 601.1,453.9 601.7,466.4 602.3,468.4 602.9,469.0 603.5,468.4 604.1,465.3 604.6,465.9 605.2,465.6 605.8,470.5 606.4,466.7 607.0,465.7 607.6,465.6 608.2,469.8 608.8,466.1 609.4,469.0 610.0,466.0 610.6,467.0 611.1,466.7 611.7,469.4 612.3,466.6 612.9,469.1 613.5,466.3 614.1,469.5 614.7,466.2 615.3,467.2 615.9,467.3 616.5,470.6 617.0,466.1 617.6,469.9 618.2,466.6 618.8,469.5 619.4,464.8 620.0,470.8 620.6,465.0 621.2,467.3 621.8,467.3 622.4,470.3 623.0,467.5 623.5,469.6 624.1,466.8 624.7,470.2 625.3,467.6 625.9,466.9 626.5,467.4 627.1,465.9 627.7,467.0 628.3,470.1 628.9,466.1 629.4,466.3 630.0,466.8 630.6,468.5 631.2,465.0 631.8,469.2 632.4,468.0 633.0,467.1 633.6,467.3 634.2,465.2 634.8,461.2 635.4,462.9 635.9,458.9 636.5,456.7 637.1,452.7 637.7,443.7 638.3,426.1 638.9,407.0 639.5,398.7 640.1,407.6 640.7,426.3 641.3,443.3 641.9,452.7 642.4,458.2 643.0,461.6 643.6,462.4 644.2,461.2 644.8,463.2 645.4,462.9 646.0,465.9 646.6,463.9 647.2,465.2 647.8,465.7 648.3,463.8 648.9,466.1 649.5,466.7 650.1,465.7 650.7,466.3 651.3,467.0 651.9,467.0 652.5,469.4 653.1,468.0 653.7,467.6 654.3,469.6 654.8,470.8 655.4,465.5 656.0,469.0 656.6,467.7 657.2,464.9 657.8,465.2 658.4,461.6 659.0,461.3 659.6,460.3 660.2,461.4 660.7,460.8 661.3,464.6 661.9,462.9 662.5,466.6 663.1,463.8 663.7,465.1 664.3,461.8 664.9,462.8 665.5,458.6 666.1,459.2 666.7,458.6 667.2,459.0 667.8,459.6 668.4,462.4 669.0,460.4 669.6,460.8 670.2,458.2 670.8,457.0 671.4,453.2 672.0,447.2 672.6,433.1 673.1,409.1 673.7,381.0 674.3,368.6 674.9,381.6 675.5,409.2 676.1,433.5 676.7,447.8 677.3,454.6 677.9,458.2 678.5,461.2 679.1,463.4 679.6,462.3 680.2,464.5 680.8,465.0 681.4,468.5 682.0,466.7 682.6,470.0 683.2,470.3 683.8,470.3 684.4,468.0 685.0,471.0 685.5,470.4 686.1,470.0 686.7,467.4 687.3,469.3 687.9,466.9 688.5,468.1 689.1,464.5 689.7,465.2 690.3,461.0 690.9,456.2 691.5,444.3 692.0,429.6 692.6,421.6 693.2,428.8 693.8,442.5 694.4,453.1 695.0,455.9 695.6,455.2 696.2,448.0 696.8,429.1 697.4,378.8 697.9,245.6 698.5,103.0 699.1,245.7 699.7,380.3 700.3,431.0 700.9,449.4 701.5,457.2 702.1,456.2 702.7,451.2 703.3,447.5 703.9,453.7 704.4,461.5 705.0,467.3 705.6,467.9 706.2,470.3 706.8,468.1 707.4,471.8 708.0,470.1 708.6,472.3 709.2,473.4 709.8,472.6 710.3,471.0 710.9,473.0 711.5,470.4 712.1,472.3 712.7,469.9 713.3,470.7 713.9,467.3 714.5,467.4 715.1,467.7 715.7,466.5 716.3,464.1 716.8,464.9 717.4,466.3 718.0,465.2 718.6,466.5 719.2,469.5 719.8,470.6 720.4,469.4 721.0,470.0 721.6,469.7 722.2,473.1 722.7,472.4 723.3,469.8 723.9,472.1 724.5,471.9 725.1,471.2 725.7,467.9 726.3,469.1 726.9,465.9 727.5,464.9 728.1,463.3 728.7,462.0 729.2,462.4 729.8,463.4 730.4,462.9 731.0,466.3 731.6,466.6 732.2,469.5 732.8,468.9 733.4,472.4 734.0,472.6 734.6,473.0 735.1,472.0 735.7,473.9 736.3,472.1 736.9,471.8 737.5,472.6 738.1,474.7 738.7,472.8 739.3,475.7 739.9,473.5 740.5,475.3 741.1,473.6 741.6,475.5 742.2,475.3 742.8,476.9 743.4,475.5 744.0,475.6 744.6,473.8 745.2,475.6 745.8,473.5 746.4,474.1 747.0,473.9 747.5,474.2 748.1,476.0 748.7,476.3 749.3,473.9 749.9,476.2 750.5,473.4 751.1,475.8 751.7,476.2 752.3,475.7 752.9,473.6 753.5,475.8 754.0,474.4 754.6,476.5 755.2,476.4 755.8,477.0 756.4,477.1 757.0,474.4 757.6,476.1 758.2,476.5 758.8,474.6 759.4,473.9 760.0,477.5 760.5,476.5 761.1,476.1 761.7,477.2 762.3,476.5 762.9,473.9 763.5,477.3 764.1,476.2 764.7,474.6 765.3,476.0 765.9,473.8 766.4,476.5 767.0,473.2 767.6,475.9 768.2,473.6 768.8,477.6 769.4,473.8 770.0,475.8 770.6,474.1 771.2,475.3 771.8,473.1 772.4,475.1 772.9,472.3 773.5,474.5 774.1,471.8 774.7,470.4 775.3,472.8 775.9,473.6 776.5,471.8 777.1,471.9 777.7,472.9 778.3,475.0 778.8,476.7 779.4,473.5 780.0,474.3 780.6,476.0 781.2,474.1 781.8,476.7 782.4,476.9 783.0,476.6 783.6,476.6 784.2,477.3 784.8,475.3 785.3,477.0 785.9,475.1 786.5,476.7 787.1,474.7 787.7,477.5 788.3,477.1 788.9,476.8 789.5,474.5 790.1,476.9 790.7,474.6 791.2,477.4 791.8,475.5 792.4,477.9 793.0,475.6 793.6,477.0 794.2,475.3 794.8,475.0 795.4,477.4 796.0,474.9 796.6,477.4 797.2,475.6 797.7,474.3 798.3,475.8 798.9,475.0 799.5,477.2 800.1,478.5 800.7,477.0 801.3,475.3 801.9,477.4 802.5,477.2 803.1,477.6 803.6,475.9 804.2,477.9 804.8,475.7 805.4,477.2 806.0,475.3 806.6,475.6 807.2,476.0 807.8,477.6 808.4,477.5 809.0,477.3 809.6,476.0 810.1,475.7 810.7,475.7 811.3,477.9 811.9,476.1 812.5,475.9 813.1,478.3 813.7,477.5 814.3,477.8 814.9,478.4 815.5,475.3 816.0,478.5 816.6,476.1 817.2,477.7 817.8,476.2 818.4,474.8 819.0,476.4 819.6,477.9 820.2,475.3 820.8,477.9 821.4,475.5 822.0,478.0 822.5,477.8 823.1,477.4 823.7,476.2 824.3,478.4 824.9,476.2 825.5,478.8 826.1,476.0 826.7,477.5 827.3,476.0 827.9,478.1 828.4,477.8 829.0,478.0 829.6,475.8 830.2,478.0 830.8,477.8 831.4,478.6 832.0,478.6 832.6,478.0 833.2,475.3 833.8,476.0 834.4,476.0 834.9,478.1 835.5,475.5 836.1,476.8 836.7,475.1 837.3,477.0 837.9,474.6 838.5,476.1 839.1,474.4 839.7,476.3 840.3,475.5 840.8,475.0 841.4,472.9 842.0,473.2 842.6,471.4 843.2,470.5 843.8,470.0 844.4,467.7 845.0,463.3 845.6,454.8 846.2,443.1 846.8,431.8 847.3,426.3 847.9,431.7 848.5,443.1 849.1,455.1 849.7,463.4 850.3,466.5 850.9,469.1 851.5,471.6 852.1,471.4 852.7,473.6 853.2,472.8 853.8,475.3 854.4,473.3 855.0,477.0 855.6,476.8 856.2,476.7 856.8,475.3 857.4,476.9 858.0,475.8 858.6,477.3 859.2,478.3 859.7,477.6 860.3,476.0 860.9,477.9 861.5,478.6 862.1,478.1 862.7,476.7 863.3,478.0 863.9,476.4 864.5,478.2 865.1,476.8 865.6,476.0 866.2,475.9 866.8,478.1 867.4,476.7 868.0,478.3 868.6,478.3 869.2,477.3 869.8,476.4 870.4,479.1 871.0,478.6 871.6,479.4 872.1,477.2 872.7,477.1 873.3,477.2 873.9,476.7 874.5,477.4 875.1,478.9 875.7,476.5 876.3,479.5 876.9,476.3 877.5,477.4 878.1,477.4 878.6,479.5 879.2,477.4 879.8,479.7 880.4,477.5 881.0,478.6 881.6,476.6 882.2,478.7 882.8,477.1 883.4,479.1 884.0,476.5 884.5,478.7 885.1,477.3 885.7,476.9 886.3,477.1 886.9,478.7 887.5,478.6 888.1,479.3 888.7,478.8 889.3,479.0 889.9,477.5 890.5,477.7 891.0,479.1 891.6,477.1 892.2,476.8 892.8,478.8 893.4,477.8 894.0,479.6 894.6,478.9 895.2,479.1 895.8,477.1 896.4,479.0 896.9,476.7 897.5,479.0 898.1,476.4 898.7,478.8 899.3,478.9 899.9,479.5 900.5,477.8 901.1,479.0 901.7,477.4 902.3,479.5 902.9,479.2 903.4,477.9 904.0,477.6 904.6,479.9 905.2,477.7 905.8,478.9 906.4,477.9 907.0,479.2 907.6,476.8 908.2,479.7 908.8,479.1 909.3,477.8 909.9,477.3 910.5,477.5 911.1,478.0 911.7,478.9 912.3,477.9 912.9,477.6 913.5,477.8 914.1,479.2 914.7,477.9 915.3,479.1 915.8,479.3 916.4,479.1 917.0,477.4 917.6,478.1 918.2,479.4 918.8,479.0 919.4,477.9 920.0,479.5 920.6,479.1 921.2,479.3 921.7,477.6 922.3,478.2 922.9,479.3 923.5,479.3 924.1,479.7 924.7,478.2 925.3,479.3 925.9,477.9 926.5,477.6 927.1,479.1 927.7,478.2 928.2,479.1 928.8,477.7 929.4,479.6 930.0,479.9 930.6,477.6 931.2,478.2 931.8,479.4 932.4,477.2 933.0,479.3 933.6,479.6 934.1,479.1 934.7,480.1 935.3,479.1 935.9,478.2 936.5,480.0 937.1,477.3 937.7,480.2 938.3,477.9 938.9,479.5 939.5,477.7 940.1,479.4 940.6,478.3 941.2,478.2 941.8,479.5 942.4,479.3 943.0,477.9 943.6,479.1 944.2,478.2 944.8,479.9 945.4,479.4 946.0,477.6 946.5,478.1 947.1,479.8 947.7,478.2 948.3,479.6 948.9,478.2 949.5,477.9 950.1,479.4 950.7,477.8 951.3,479.6 951.9,479.5 952.5,477.4 953.0,479.8 953.6,477.7 954.2,478.7 954.8,478.6 955.4,478.7 956.0,478.4 956.6,478.6 957.2,477.3 957.8,478.0 958.4,476.7 958.9,478.2 959.5,476.1 960.1,476.7 960.7,475.3 961.3,475.8 961.9,475.4 962.5,473.4 963.1,473.6 963.7,471.9 964.3,468.9 964.9,465.5 965.4,458.0 966.0,448.7 966.6,439.7 967.2,436.2 967.8,439.8 968.4,448.8 969.0,458.3 969.6,464.9 970.2,470.1 970.8,470.9 971.3,472.6 971.9,474.5 972.5,474.3 973.1,475.9 973.7,475.6 974.3,476.9 974.9,476.3 975.5,478.0 976.1,476.6 976.7,478.6 977.3,477.0 977.8,478.4 978.4,477.7 979.0,479.8 979.6,479.0 980.2,478.9 980.8,477.6 981.4,478.0 982.0,478.2 982.6,479.6 983.2,478.1 983.7,479.4 984.3,478.4 984.9,478.0 985.5,478.6 986.1,479.6 986.7,478.4 987.3,479.5 987.9,479.7 988.5,480.2 989.1,478.3 989.7,479.9 990.2,478.1 990.8,480.1 991.4,478.5 992.0,478.3 992.6,478.5 993.2,480.1 993.8,479.6 994.4,479.6 995.0,478.2 995.6,480.0 996.1,478.0 996.7,480.0 997.3,477.8 997.9,480.0 998.5,478.5 999.1,480.0 999.7,478.6 1000.3,480.2 1000.9,479.8 1001.5,478.9 1002.1,480.0 1002.6,480.1 1003.2,478.7 1003.8,479.9 1004.4,478.5 1005.0,478.7 1005.6,478.8 1006.2,479.0 1006.8,479.0 1007.4,480.2 1008.0,479.0 1008.6,480.5 1009.1,478.6 1009.7,478.8 1010.3,478.7 1010.9,481.0 1011.5,478.5 1012.1,478.9 1012.7,478.9 1013.3,480.5 1013.9,478.0 1014.5,479.0 1015.0,479.8 1015.6,480.3 1016.2,479.0 1016.8,480.1 1017.4,478.8 1018.0,480.2 1018.6,478.8 1019.2,479.8 1019.8,478.6 1020.4,480.3 1021.0,478.6 1021.5,479.9 1022.1,478.3 1022.7,478.8 1023.3,480.6 1023.9,480.1 1024.5,478.8 1025.1,480.1 1025.7,478.9 1026.3,480.1 1026.9,478.8 1027.4,480.2 1028.0,478.8 1028.6,478.5 1029.2,479.0 1029.8,480.1 1030.4,478.9 1031.0,479.8 1031.6,479.0 1032.2,478.9 1032.8,478.5 1033.4,479.7 1033.9,479.7 1034.5,478.4 1035.1,478.8 1035.7,479.8 1036.3,478.6 1036.9,478.4 1037.5,478.3 1038.1,479.4 1038.7,479.5 1039.3,479.6 1039.8,479.3 1040.4,479.1 1041.0,478.1 1041.6,477.7 1042.2,477.1 1042.8,479.1 1043.4,478.3 1044.0,477.8 1044.6,476.4 1045.2,476.3 1045.8,476.7 1046.3,475.4 1046.9,474.9 1047.5,475.3 1048.1,472.6 1048.7,471.1 1049.3,466.8 1049.9,461.7 1050.5,454.7 1051.1,449.1 1051.7,446.6 1052.2,449.1 1052.8,454.9 1053.4,461.8 1054.0,466.6 1054.6,471.4 1055.2,472.7 1055.8,475.3 1056.4,474.7 1057.0,475.1 1057.6,475.6 1058.2,477.2 1058.7,476.3 1059.3,478.4 1059.9,478.2 1060.5,477.6 1061.1,477.6 1061.7,479.1 1062.3,478.0 1062.9,479.3 1063.5,479.4 1064.1,478.3 1064.6,478.6 1065.2,479.8 1065.8,479.8 1066.4,479.7 1067.0,479.7 1067.6,479.8 1068.2,478.6 1068.8,479.8 1069.4,478.5 1070.0,479.9 1070.6,479.2 1071.1,480.3 1071.7,478.9 1072.3,478.9 1072.9,479.2 1073.5,480.2 1074.1,478.8 1074.7,480.5 1075.3,479.2 1075.9,480.2 1076.5,479.2 1077.0,480.0 1077.6,479.2 1078.2,479.2 1078.8,478.9 1079.4,480.4 1080.0,479.2 1080.6,480.8 1081.2,479.4 1081.8,479.4 1082.4,479.4 1083.0,480.0 1083.5,479.4 1084.1,479.0 1084.7,479.0 1085.3,480.2 1085.9,479.3 1086.5,478.9 1087.1,478.9 1087.7,480.0 1088.3,480.2 1088.9,479.2 1089.4,479.0 1090.0,480.1 1090.6,478.9 1091.2,479.8 1091.8,479.7 1092.4,480.2 1093.0,478.5 1093.6,479.4 1094.2,478.1 1094.8,479.2 1095.4,478.9 1095.9,478.2 1096.5,476.7 1097.1,477.4 1097.7,475.4 1098.3,474.8 1098.9,474.1 1099.5,473.8 1100.1,472.5 1100.7,473.4 1101.3,473.2 1101.8,473.7 1102.4,474.6 1103.0,475.3 1103.6,475.5 1104.2,476.9 1104.8,476.2 1105.4,478.1 1106.0,477.2 1106.6,478.8 1107.2,477.6 1107.8,479.0 1108.3,477.3 1108.9,477.8 1109.5,477.4 1110.1,478.8 1110.7,477.4 1111.3,478.1 1111.9,476.9 1112.5,476.8 1113.1,477.1 1113.7,476.0 1114.2,475.2 1114.8,475.5 1115.4,473.7 1116.0,473.3 1116.6,471.0 1117.2,468.7 1117.8,464.6 1118.4,456.8 1119.0,447.0 1119.6,438.4 1120.2,434.8 1120.7,438.4 1121.3,447.1 1121.9,456.8 1122.5,464.1 1123.1,468.3 1123.7,471.0 1124.3,473.0 1124.9,473.4 1125.5,474.6 1126.1,474.1 1126.7,474.9 1127.2,476.1 1127.8,476.4 1128.4,476.4 1129.0,477.1 1129.6,475.9 1130.2,475.5 1130.8,475.5 1131.4,476.1 1132.0,474.4 1132.6,473.9 1133.1,472.2 1133.7,470.0 1134.3,465.7 1134.9,460.3 1135.5,455.8 1136.1,454.3 1136.7,456.0 1137.3,460.7 1137.9,465.6 1138.5,470.4 1139.1,472.8 1139.6,475.3 1140.2,475.3 1140.8,476.8 1141.4,476.5 1142.0,478.0 1142.6,478.3 1143.2,478.5 1143.8,478.8 1144.4,479.2 1145.0,478.0 1145.5,479.3 1146.1,478.2 1146.7,479.9 1147.3,480.0 1147.9,479.1 1148.5,478.9 1149.1,480.2 1149.7,479.2 1150.3,480.1 1150.9,480.4 1151.5,479.1 1152.0,479.5 1152.6,480.4 1153.2,479.7 1153.8,480.3 1154.4,479.3 1155.0,479.6 1155.6,479.7 1156.2,479.7 1156.8,479.8 1157.4,479.8 1157.9,479.5 1158.5,480.5 1159.1,479.5 1159.7,480.4 1160.3,479.4 1160.9,479.5 1161.5,479.5 1162.1,479.9 1162.7,479.7 1163.3,479.7 1163.9,479.7 1164.4,480.7 1165.0,479.6 1165.6,480.5 1166.2,480.4 1166.8,480.9 1167.4,479.9 1168.0,480.5 1168.6,479.5 1169.2,479.5 1169.8,479.6 1170.3,480.7 1170.9,479.6 1171.5,479.1 1172.1,479.5 1172.7,479.2 1173.3,479.6 1173.9,480.6 1174.5,479.6 1175.1,480.3 1175.7,479.3 1176.3,479.9 1176.8,479.0 1177.4,478.8 1178.0,478.8 1178.6,479.2 1179.2,478.0 1179.8,478.3 1180.4,478.0 1181.0,477.2 1181.6,476.0 1182.2,475.6 1182.7,475.6 1183.3,475.7 1183.9,476.7 1184.5,477.1 1185.1,478.0 1185.7,478.7 1186.3,479.0 1186.9,479.1 1187.5,478.5 1188.1,479.7 1188.7,478.8 1189.2,479.1 1189.8,479.2 1190.4,479.5 1191.0,479.4 1191.6,480.4 1192.2,479.6 1192.8,479.8 1193.4,479.4 1194.0,480.7 1194.6,480.0 1195.1,480.5 1195.7,479.4 1196.3,480.9 1196.9,480.8 1197.5,480.6 1198.1,480.1 1198.7,479.9 1199.3,479.7 1199.9,480.7 1200.5,480.7 1201.1,480.9 1201.6,480.0 1202.2,480.0 1202.8,480.9 1203.4,480.7 1204.0,480.2 1204.6,480.8 1205.2,479.9 1205.8,480.2 1206.4,480.0 1207.0,480.7 1207.5,480.0 1208.1,481.5 1208.7,480.2 1209.3,480.8 1209.9,480.7 1210.5,481.0 1211.1,480.1 1211.7,479.9 1212.3,480.1 1212.9,481.3 1213.5,481.0 1214.0,481.1 1214.6,480.1 1215.2,480.7 1215.8,479.6 1216.4,480.9 1217.0,480.1 1217.6,480.0 1218.2,480.7 1218.8,481.1 1219.4,480.0 1219.9,480.8 1220.5,480.1 1221.1,480.7 1221.7,480.2 1222.3,480.7 1222.9,480.9 1223.5,480.7 1224.1,479.6 1224.7,480.7 1225.3,481.0 1225.9,480.7 1226.4,480.1 1227.0,480.8 1227.6,479.9 1228.2,480.5 1228.8,480.6 1229.4,479.6 1230.0,480.0 1230.6,480.5 1231.2,479.7 1231.8,480.3 1232.3,479.7 1232.9,479.6 1233.5,479.5 1234.1,480.2 1234.7,479.2 1235.3,479.9 1235.9,479.7 1236.5,479.6 1237.1,479.2 1237.7,478.3 1238.3,477.8 1238.8,477.9 1239.4,476.5 1240.0,476.2 1240.6,475.2 1241.2,475.0 1241.8,473.7 1242.4,472.8 1243.0,472.3 1243.6,472.8 1244.2,472.8 1244.8,472.8 1245.3,474.3 1245.9,475.4 1246.5,475.3 1247.1,476.9 1247.7,476.8 1248.3,478.1 1248.9,477.8 1249.5,479.0 1250.1,478.5 1250.7,479.8 1251.2,479.1 1251.8,478.9 1252.4,480.0 1253.0,480.1 1253.6,479.5 1254.2,480.3 1254.8,479.6 1255.4,480.8 1256.0,479.8 1256.6,479.7 1257.2,480.6 1257.7,480.7 1258.3,480.5 1258.9,479.6 1259.5,479.9 1260.1,480.0 1260.7,480.2 1261.3,480.6 1261.9,480.1 1262.5,480.8 1263.1,480.8 1263.6,480.8 1264.2,480.2 1264.8,480.8 1265.4,480.9 1266.0,481.1 1266.6,480.1 1267.2,480.7 1267.8,479.6 1268.4,480.7 1269.0,480.0 1269.6,480.9 1270.1,481.2 1270.7,480.7 1271.3,480.1 1271.9,480.7 1272.5,480.9 1273.1,480.9 1273.7,480.1 1274.3,479.9 1274.9,480.8 1275.5,480.7 1276.0,480.7 1276.6,480.8 1277.2,480.3 1277.8,480.7 1278.4,480.1 1279.0,480.9 1279.6,479.9 1280.2,480.8 1280.8,480.0 1281.4,481.0 1282.0,480.3 1282.5,480.3 1283.1,480.0 1283.7,480.9 1284.3,480.3 1284.9,480.2 1285.5,480.1 1286.1,480.8 1286.7,481.2 1287.3,480.2 1287.9,480.1 1288.4,480.9 1289.0,480.3 1289.6,480.3 1290.2,480.4 1290.8,480.4 1291.4,480.3" fill="none" stroke="#2e2a2b" stroke-width="2.7" stroke-linejoin="round"/>
<rect x="306.0" y="916" width="2.2" height="5" fill="#a8a4a5"/>
<rect x="384.8" y="916" width="2.2" height="5" fill="#a8a4a5"/>
<rect x="542.2" y="916" width="2.2" height="5" fill="#a8a4a5"/>
<rect x="621.0" y="916" width="2.2" height="5" fill="#a8a4a5"/>
<rect x="778.4" y="916" width="2.2" height="5" fill="#a8a4a5"/>
<rect x="857.2" y="916" width="2.2" height="5" fill="#a8a4a5"/>
<rect x="1014.6" y="916" width="2.2" height="5" fill="#a8a4a5"/>
<rect x="1093.4" y="916" width="2.2" height="5" fill="#a8a4a5"/>
<rect x="1250.8" y="916" width="2.2" height="5" fill="#a8a4a5"/>
<rect x="1329.6" y="916" width="2.2" height="5" fill="#a8a4a5"/>
<path d="M228.5,0 V918.35 H1409.5 V0" fill="none" stroke="#231f20" stroke-width="3"/>
<rect x="227" y="0" width="1184.5" height="3" fill="#231f20"/>
<line x1="464.7" y1="898" x2="464.7" y2="920" stroke="#231f20" stroke-width="3"/>
<line x1="700.9" y1="898" x2="700.9" y2="920" stroke="#231f20" stroke-width="3"/>
<line x1="937.1" y1="898" x2="937.1" y2="920" stroke="#231f20" stroke-width="3"/>
<line x1="1173.3" y1="898" x2="1173.3" y2="920" stroke="#231f20" stroke-width="3"/>
<text x="227.7" y="985.4" font-size="56.5" text-anchor="middle">0</text>
<text x="463.9" y="985.4" font-size="56.5" text-anchor="middle">20</text>
<text x="700.1" y="985.4" font-size="56.5" text-anchor="middle">40</text>
<text x="936.3" y="985.4" font-size="56.5" text-anchor="middle">60</text>
<text x="1172.5" y="985.4" font-size="56.5" text-anchor="middle">80</text>
<text x="1408.7" y="985.4" font-size="56.5" text-anchor="middle">100</text>
<text x="753" y="1049.5" font-size="56">2<tspan font-style="italic">θ</tspan>/(°)</text>
<text transform="translate(172.5,460.5) rotate(-90)" font-size="55" text-anchor="middle" style="font-family:'Noto Serif CJK SC',serif">强度</text>
<text x="1303" y="492.5" font-size="55">(d)</text>
<text x="1303" y="631.6" font-size="55">(c)</text>
<text x="1303" y="753.6" font-size="55">(b)</text>
<text x="1303" y="890.6" font-size="55">(a)</text>
<polygon points="773.5,96.1 785.85,117 773.5,137.9 761.15,117" fill="#231f20"/>
<ellipse cx="774.5" cy="176.8" rx="13.7" ry="12.7" fill="#231f20"/>
<polygon points="777.2,229.88 788.98,253.20 765.42,253.20" fill="none" stroke="#231f20" stroke-width="3.2" stroke-linejoin="miter"/>
<polygon points="1052,100.2 1086.4,100.2 1069.2,127.6" fill="#231f20"/>
<polygon points="1075.0,152.8 1090,166 1085,191 1064.7,191 1060,166" fill="#231f20"/>
<ellipse cx="1078" cy="236.8" rx="12.1" ry="14.7" fill="none" stroke="#231f20" stroke-width="2.6"/>
<text x="808" y="116.7" font-size="55">--HA</text>
<text x="808" y="180" font-size="55">--CaTiO<tspan font-size="32" dy="11" dx="1.5">3</tspan></text>
<text x="808" y="253.8" font-size="55">--CaO</text>
<text x="1105" y="121.4" font-size="55">--Ti</text>
<text x="1105" y="176.8" font-size="55">--Ti<tspan font-size="33" dy="12" dx="1">2</tspan><tspan dy="-12" dx="0.5">O</tspan></text>
<text x="1105" y="244.5" font-size="55">--Ti<tspan font-style="italic">x</tspan>P<tspan font-style="italic">y</tspan></text>
<polygon points="688.6,19 722.7,19 705.65,47" fill="#231f20"/>
<polygon points="701.5,51.85 714.0,73.2 701.5,94.55 689.0,73.2" fill="#231f20"/>
<polygon points="676.75,288.7 691,302 687,327.4 667,327.4 662.5,302" fill="#231f20"/>
<polygon points="658,335.7 691.3,335.7 674.65,364.5" fill="#231f20"/>
<polygon points="640.0,370.48 651.48,393.4 628.52,393.4" fill="none" stroke="#231f20" stroke-width="3.2" stroke-linejoin="miter"/>
<polygon points="845.75,300.2 860.5,314.3 855.9,338.5 835.6,338.5 831,314.3" fill="#231f20"/>
<ellipse cx="845.1" cy="364.1" rx="12.80" ry="15.10" fill="none" stroke="#231f20" stroke-width="2.6"/>
<polygon points="847.6,381.1 860.05,401.8 847.6,422.5 835.15,401.8" fill="#231f20"/>
<ellipse cx="962" cy="417.2" rx="13.6" ry="12.8" fill="#231f20"/>
<polygon points="1054,392.25 1066.6,413.5 1054,434.75 1041.4,413.5" fill="#231f20"/>
<polygon points="1118.8,388.6 1131.05,410 1118.8,431.4 1106.55,410" fill="#231f20"/>
</svg></body></html>
